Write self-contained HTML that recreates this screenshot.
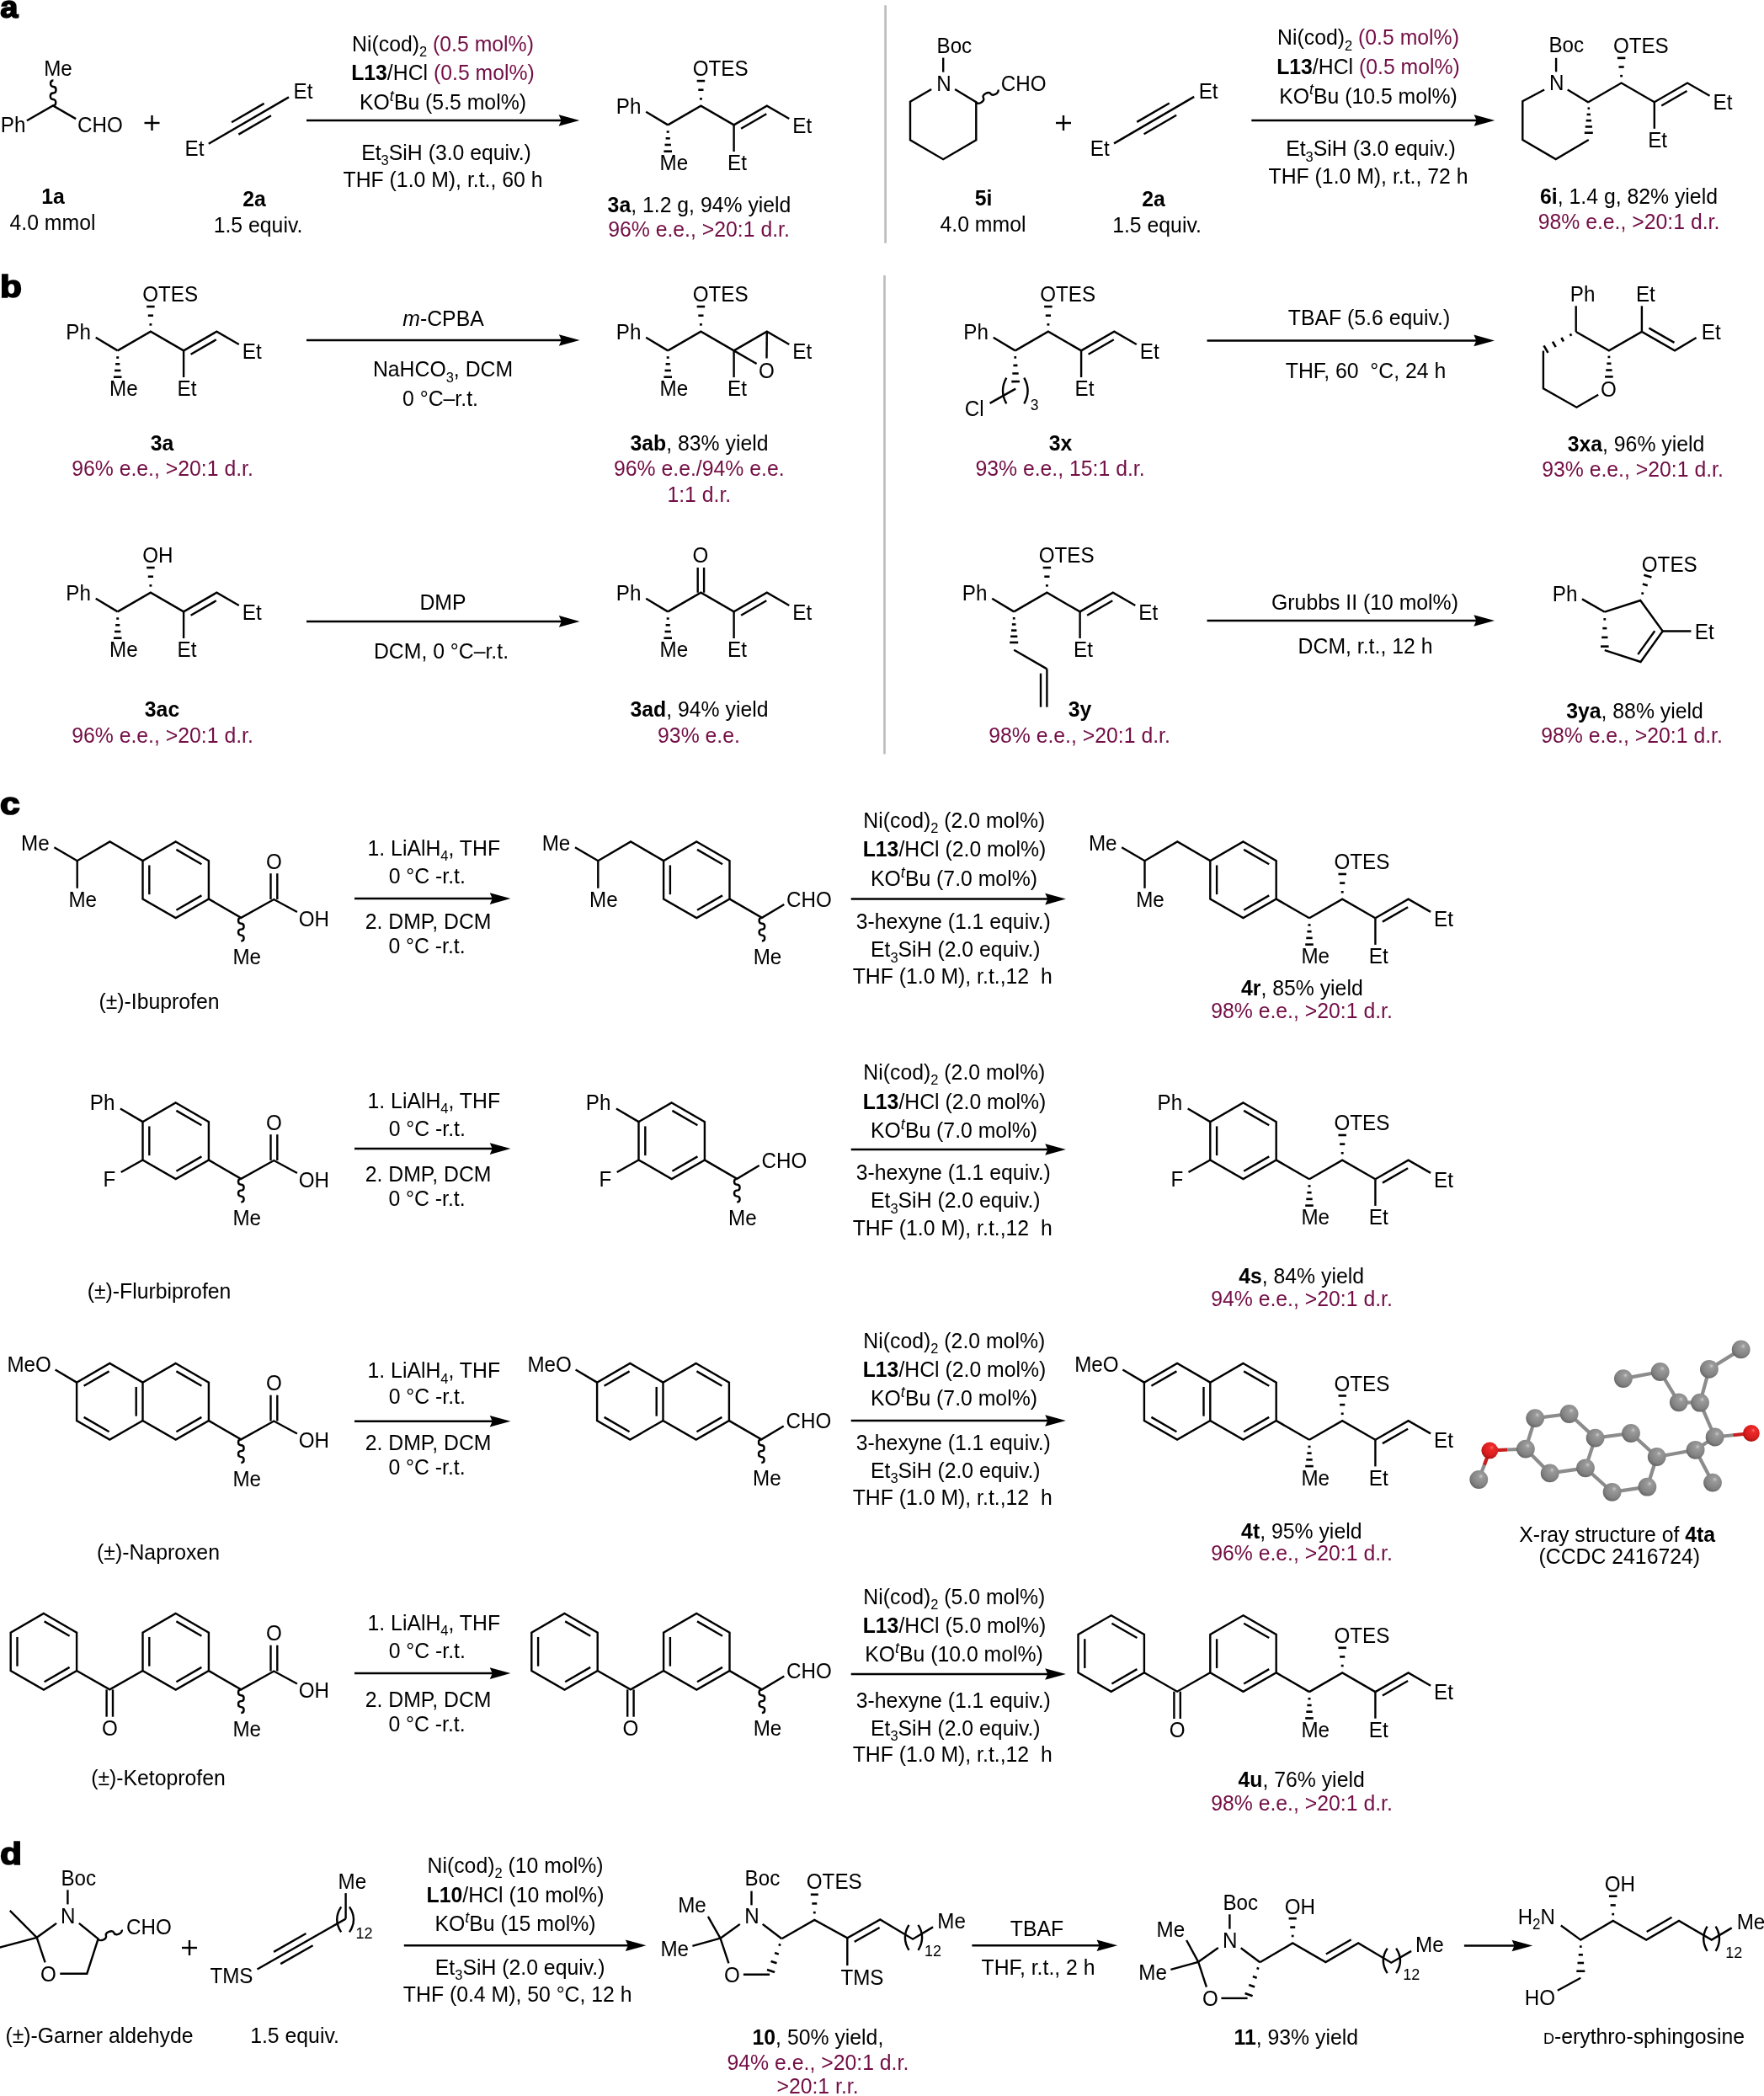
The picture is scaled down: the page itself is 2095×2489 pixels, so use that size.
<!DOCTYPE html><html><head><meta charset="utf-8"><style>html,body{margin:0;padding:0;background:#fff;overflow:hidden;}svg{display:block;will-change:transform;font-family:"Liberation Sans",sans-serif;font-size:24.8px;}</style></head><body><svg width="2095" height="2489" viewBox="0 0 2095 2489"><text transform="matrix(1.0,0,0,0.98,0.3,21.3)" font-weight="bold" font-size="38" stroke="#000" stroke-width="1.7">a</text>
<text transform="matrix(1.12,0,0,0.98,0,353.3)" font-weight="bold" font-size="38" stroke="#000" stroke-width="1.7">b</text>
<text transform="matrix(1.12,0,0,0.98,0,967.2)" font-weight="bold" font-size="38" stroke="#000" stroke-width="1.7">c</text>
<text transform="matrix(1.12,0,0,0.98,0,2213.6)" font-weight="bold" font-size="38" stroke="#000" stroke-width="1.7">d</text>
<line x1="1051.6" y1="6.2" x2="1051.6" y2="288.7" stroke="#bdbdbd" stroke-width="2.7"/>
<line x1="1050.5" y1="327.1" x2="1050.5" y2="895.6" stroke="#bdbdbd" stroke-width="2.7"/>
<path d="M31.9,143.3 L62.9,125.4 L90.1,141.1" fill="none" stroke="#000" stroke-width="2.4" stroke-linejoin="miter" stroke-miterlimit="4"/>
<path d="M62.9,125.4 C67.29,125.47 67.41,118 63.02,117.93 C58.64,117.85 58.76,110.38 63.15,110.45 C67.54,110.52 67.66,103.05 63.27,102.97 C58.89,102.9 59.01,95.43 63.4,95.5" fill="none" stroke="#000" stroke-width="2.4"/>
<text transform="matrix(1,0,0,1.04,52.2,90)" font-size="24.2">Me</text>
<text transform="matrix(1,0,0,1.04,0.8,156.7)" font-size="24.2">Ph</text>
<text transform="matrix(1,0,0,1.04,92.1,156.7)" font-size="24.2">CHO</text>
<line x1="171.5" y1="146" x2="189.5" y2="146" stroke="#000" stroke-width="2.4"/>
<line x1="180.5" y1="137" x2="180.5" y2="155" stroke="#000" stroke-width="2.4"/>
<line x1="247.8" y1="170.7" x2="343" y2="115.4" stroke="#000" stroke-width="2.4"/>
<line x1="275.05" y1="145.27" x2="313.6" y2="122.88" stroke="#000" stroke-width="2.4"/>
<line x1="283.38" y1="159.63" x2="321.94" y2="137.23" stroke="#000" stroke-width="2.4"/>
<text transform="matrix(1,0,0,1.04,219.6,185.1)" font-size="24.2">Et</text>
<text transform="matrix(1,0,0,1.04,348.5,117)" font-size="24.2">Et</text>
<line x1="364" y1="143" x2="668.3" y2="143" stroke="#000" stroke-width="2.5"/>
<path d="M688.3,143 L663.6,136.2 L666.7,143 L663.6,149.8 Z" fill="#000"/>
<text transform="matrix(1,0,0,1.04,526,60.5)" text-anchor="middle">Ni(cod)<tspan font-size="16.5" dy="6.5">2</tspan><tspan dy="-6.5"> </tspan><tspan fill="#720e45">(0.5 mol%)</tspan></text>
<text transform="matrix(1,0,0,1.04,526,94.6)" text-anchor="middle"><tspan font-weight="bold">L13</tspan>/HCl <tspan fill="#720e45">(0.5 mol%)</tspan></text>
<text transform="matrix(1,0,0,1.04,526,129.9)" text-anchor="middle">KO<tspan font-size="18" font-style="italic" dy="-10">t</tspan><tspan dy="10">Bu (5.5 mol%)</tspan></text>
<text transform="matrix(1,0,0,1.04,530,189.6)" text-anchor="middle">Et<tspan font-size="16.5" dy="6.5">3</tspan><tspan dy="-6.5">SiH (3.0 equiv.)</tspan></text>
<text transform="matrix(1,0,0,1.04,526,222.4)" text-anchor="middle">THF (1.0 M), r.t., 60 h</text>
<text transform="matrix(1,0,0,1.04,63,242)" text-anchor="middle"><tspan font-weight="bold">1a</tspan></text>
<text transform="matrix(1,0,0,1.04,62.5,273)" text-anchor="middle">4.0 mmol</text>
<text transform="matrix(1,0,0,1.04,302,245)" text-anchor="middle"><tspan font-weight="bold">2a</tspan></text>
<text transform="matrix(1,0,0,1.04,306.5,276)" text-anchor="middle">1.5 equiv.</text>
<line x1="767.2" y1="132.7" x2="793.2" y2="148.4" stroke="#000" stroke-width="2.4"/>
<text transform="matrix(1,0,0,1.04,731.8,135)" font-size="24.2">Ph</text>
<path d="M793.2,148.4 L832.4,125.75 L871.6,148.4" fill="none" stroke="#000" stroke-width="2.4" stroke-linejoin="miter" stroke-miterlimit="4"/>
<line x1="830.95" y1="117.36" x2="833.85" y2="117.36" stroke="#000" stroke-width="2.6"/>
<line x1="829.3" y1="106.72" x2="835.5" y2="106.72" stroke="#000" stroke-width="2.6"/>
<line x1="827.65" y1="96.08" x2="837.15" y2="96.08" stroke="#000" stroke-width="2.6"/>
<text transform="matrix(1,0,0,1.04,822.7,90.2)" font-size="24.2">OTES</text>
<path d="M871.6,148.4 L910.8,125.75 L937.3,141" fill="none" stroke="#000" stroke-width="2.4" stroke-linejoin="miter" stroke-miterlimit="4"/>
<line x1="880.1" y1="152.73" x2="910.3" y2="135.28" stroke="#000" stroke-width="2.4"/>
<line x1="794.7" y1="156.55" x2="791.7" y2="156.55" stroke="#000" stroke-width="2.6"/>
<line x1="795.8" y1="164.27" x2="790.6" y2="164.27" stroke="#000" stroke-width="2.6"/>
<line x1="796.9" y1="171.98" x2="789.5" y2="171.98" stroke="#000" stroke-width="2.6"/>
<line x1="798" y1="179.7" x2="788.4" y2="179.7" stroke="#000" stroke-width="2.6"/>
<text transform="matrix(1,0,0,1.04,783.6,202.2)" font-size="24.2">Me</text>
<line x1="871.6" y1="148.4" x2="871.6" y2="180" stroke="#000" stroke-width="2.4"/>
<text transform="matrix(1,0,0,1.04,864,202.2)" font-size="24.2">Et</text>
<text transform="matrix(1,0,0,1.04,941.3,157.6)" font-size="24.2">Et</text>
<text transform="matrix(1,0,0,1.04,830.5,252)" text-anchor="middle"><tspan font-weight="bold">3a</tspan>, 1.2 g, 94% yield</text>
<text transform="matrix(1,0,0,1.04,830,281)" text-anchor="middle"><tspan fill="#720e45">96% e.e., &gt;20:1 d.r.</tspan></text>
<path d="M1106.2,106 L1081,120.8 L1081,166.2 L1120.2,189.2 L1159.3,166.2 L1159.3,121.3 L1134.1,106" fill="none" stroke="#000" stroke-width="2.4" stroke-linejoin="miter" stroke-miterlimit="4"/>
<line x1="1120.2" y1="68.6" x2="1120.2" y2="85.6" stroke="#000" stroke-width="2.4"/>
<text transform="matrix(1,0,0,1.04,1112.2,107.6)" font-size="24.2">N</text>
<text transform="matrix(1,0,0,1.04,1112.5,62.9)" font-size="24.2">Boc</text>
<path d="M1159.3,121.3 C1161.47,125.11 1170.14,120.18 1167.97,116.37 C1165.8,112.55 1174.46,107.62 1176.63,111.43 C1178.8,115.25 1187.47,110.31 1185.3,106.5" fill="none" stroke="#000" stroke-width="2.4"/>
<text transform="matrix(1,0,0,1.04,1188.7,108.1)" font-size="24.2">CHO</text>
<text transform="matrix(1,0,0,1.04,1168,244)" text-anchor="middle"><tspan font-weight="bold">5i</tspan></text>
<text transform="matrix(1,0,0,1.04,1167.5,275)" text-anchor="middle">4.0 mmol</text>
<line x1="1254" y1="146" x2="1272" y2="146" stroke="#000" stroke-width="2.4"/>
<line x1="1263" y1="137" x2="1263" y2="155" stroke="#000" stroke-width="2.4"/>
<line x1="1323" y1="170.4" x2="1418.2" y2="114.9" stroke="#000" stroke-width="2.4"/>
<line x1="1350.24" y1="144.91" x2="1388.79" y2="122.44" stroke="#000" stroke-width="2.4"/>
<line x1="1358.6" y1="159.26" x2="1397.15" y2="136.78" stroke="#000" stroke-width="2.4"/>
<text transform="matrix(1,0,0,1.04,1294.8,184.6)" font-size="24.2">Et</text>
<text transform="matrix(1,0,0,1.04,1423.7,116.5)" font-size="24.2">Et</text>
<line x1="1486.3" y1="143" x2="1755.3" y2="143" stroke="#000" stroke-width="2.5"/>
<path d="M1775.3,143 L1750.6,136.2 L1753.7,143 L1750.6,149.8 Z" fill="#000"/>
<text transform="matrix(1,0,0,1.04,1625,53.2)" text-anchor="middle">Ni(cod)<tspan font-size="16.5" dy="6.5">2</tspan><tspan dy="-6.5"> </tspan><tspan fill="#720e45">(0.5 mol%)</tspan></text>
<text transform="matrix(1,0,0,1.04,1625,88)" text-anchor="middle"><tspan font-weight="bold">L13</tspan>/HCl <tspan fill="#720e45">(0.5 mol%)</tspan></text>
<text transform="matrix(1,0,0,1.04,1625,122.5)" text-anchor="middle">KO<tspan font-size="18" font-style="italic" dy="-10">t</tspan><tspan dy="10">Bu (10.5 mol%)</tspan></text>
<text transform="matrix(1,0,0,1.04,1628,185.4)" text-anchor="middle">Et<tspan font-size="16.5" dy="6.5">3</tspan><tspan dy="-6.5">SiH (3.0 equiv.)</tspan></text>
<text transform="matrix(1,0,0,1.04,1625,218.1)" text-anchor="middle">THF (1.0 M), r.t., 72 h</text>
<text transform="matrix(1,0,0,1.04,1370,245)" text-anchor="middle"><tspan font-weight="bold">2a</tspan></text>
<text transform="matrix(1,0,0,1.04,1374,276)" text-anchor="middle">1.5 equiv.</text>
<path d="M1834.1,106.5 L1808.3,120.1 L1808.3,166 L1847.7,189 L1886.8,166" fill="none" stroke="#000" stroke-width="2.4" stroke-linejoin="miter" stroke-miterlimit="4"/>
<line x1="1861.7" y1="106.5" x2="1886.8" y2="121.8" stroke="#000" stroke-width="2.4"/>
<line x1="1888.1" y1="128.68" x2="1885.5" y2="128.68" stroke="#000" stroke-width="2.6"/>
<line x1="1889.02" y1="135.93" x2="1884.58" y2="135.93" stroke="#000" stroke-width="2.6"/>
<line x1="1889.95" y1="143.19" x2="1883.65" y2="143.19" stroke="#000" stroke-width="2.6"/>
<line x1="1890.88" y1="150.45" x2="1882.72" y2="150.45" stroke="#000" stroke-width="2.6"/>
<line x1="1891.8" y1="157.71" x2="1881.8" y2="157.71" stroke="#000" stroke-width="2.6"/>
<line x1="1848.1" y1="68.8" x2="1848.1" y2="85.3" stroke="#000" stroke-width="2.4"/>
<text transform="matrix(1,0,0,1.04,1840.1,107.4)" font-size="24.2">N</text>
<text transform="matrix(1,0,0,1.04,1839.4,62.3)" font-size="24.2">Boc</text>
<path d="M1886.4,121.2 L1925.6,98.55 L1964.8,121.2" fill="none" stroke="#000" stroke-width="2.4" stroke-linejoin="miter" stroke-miterlimit="4"/>
<line x1="1924.15" y1="90.16" x2="1927.05" y2="90.16" stroke="#000" stroke-width="2.6"/>
<line x1="1922.5" y1="79.52" x2="1928.7" y2="79.52" stroke="#000" stroke-width="2.6"/>
<line x1="1920.85" y1="68.88" x2="1930.35" y2="68.88" stroke="#000" stroke-width="2.6"/>
<text transform="matrix(1,0,0,1.04,1915.9,63)" font-size="24.2">OTES</text>
<path d="M1964.8,121.2 L2004,98.55 L2030.5,113.8" fill="none" stroke="#000" stroke-width="2.4" stroke-linejoin="miter" stroke-miterlimit="4"/>
<line x1="1973.3" y1="125.53" x2="2003.5" y2="108.08" stroke="#000" stroke-width="2.4"/>
<line x1="1964.8" y1="121.2" x2="1964.8" y2="152.8" stroke="#000" stroke-width="2.4"/>
<text transform="matrix(1,0,0,1.04,1957.2,175)" font-size="24.2">Et</text>
<text transform="matrix(1,0,0,1.04,2034.5,130.4)" font-size="24.2">Et</text>
<text transform="matrix(1,0,0,1.04,1934.5,242)" text-anchor="middle"><tspan font-weight="bold">6i</tspan>, 1.4 g, 82% yield</text>
<text transform="matrix(1,0,0,1.04,1934.5,272)" text-anchor="middle"><tspan fill="#720e45">98% e.e., &gt;20:1 d.r.</tspan></text>
<line x1="113.7" y1="400.7" x2="139.7" y2="416.4" stroke="#000" stroke-width="2.4"/>
<text transform="matrix(1,0,0,1.04,78.3,403)" font-size="24.2">Ph</text>
<path d="M139.7,416.4 L178.9,393.75 L218.1,416.4" fill="none" stroke="#000" stroke-width="2.4" stroke-linejoin="miter" stroke-miterlimit="4"/>
<line x1="177.45" y1="385.37" x2="180.35" y2="385.37" stroke="#000" stroke-width="2.6"/>
<line x1="175.8" y1="374.72" x2="182" y2="374.72" stroke="#000" stroke-width="2.6"/>
<line x1="174.15" y1="364.08" x2="183.65" y2="364.08" stroke="#000" stroke-width="2.6"/>
<text transform="matrix(1,0,0,1.04,169.2,358.2)" font-size="24.2">OTES</text>
<path d="M218.1,416.4 L257.3,393.75 L283.8,409" fill="none" stroke="#000" stroke-width="2.4" stroke-linejoin="miter" stroke-miterlimit="4"/>
<line x1="226.6" y1="420.73" x2="256.8" y2="403.28" stroke="#000" stroke-width="2.4"/>
<line x1="141.2" y1="424.55" x2="138.2" y2="424.55" stroke="#000" stroke-width="2.6"/>
<line x1="142.3" y1="432.27" x2="137.1" y2="432.27" stroke="#000" stroke-width="2.6"/>
<line x1="143.4" y1="439.98" x2="136" y2="439.98" stroke="#000" stroke-width="2.6"/>
<line x1="144.5" y1="447.7" x2="134.9" y2="447.7" stroke="#000" stroke-width="2.6"/>
<text transform="matrix(1,0,0,1.04,130.1,470.2)" font-size="24.2">Me</text>
<line x1="218.1" y1="416.4" x2="218.1" y2="448" stroke="#000" stroke-width="2.4"/>
<text transform="matrix(1,0,0,1.04,210.5,470.2)" font-size="24.2">Et</text>
<text transform="matrix(1,0,0,1.04,287.8,425.6)" font-size="24.2">Et</text>
<text transform="matrix(1,0,0,1.04,192.5,535)" text-anchor="middle"><tspan font-weight="bold">3a</tspan></text>
<text transform="matrix(1,0,0,1.04,193,565)" text-anchor="middle"><tspan fill="#720e45">96% e.e., &gt;20:1 d.r.</tspan></text>
<line x1="364" y1="404" x2="668.5" y2="404" stroke="#000" stroke-width="2.5"/>
<path d="M688.5,404 L663.8,397.2 L666.9,404 L663.8,410.8 Z" fill="#000"/>
<text transform="matrix(1,0,0,1.04,526.5,386.5)" text-anchor="middle"><tspan font-style="italic">m</tspan>-CPBA</text>
<text transform="matrix(1,0,0,1.04,526,446.8)" text-anchor="middle">NaHCO<tspan font-size="16.5" dy="6.5">3</tspan><tspan dy="-6.5">, DCM</tspan></text>
<text transform="matrix(1,0,0,1.04,523,481.7)" text-anchor="middle">0 °C–r.t.</text>
<line x1="767.2" y1="400.7" x2="793.2" y2="416.4" stroke="#000" stroke-width="2.4"/>
<text transform="matrix(1,0,0,1.04,731.8,403)" font-size="24.2">Ph</text>
<path d="M793.2,416.4 L832.4,393.75 L871.6,416.4" fill="none" stroke="#000" stroke-width="2.4" stroke-linejoin="miter" stroke-miterlimit="4"/>
<line x1="830.95" y1="385.37" x2="833.85" y2="385.37" stroke="#000" stroke-width="2.6"/>
<line x1="829.3" y1="374.72" x2="835.5" y2="374.72" stroke="#000" stroke-width="2.6"/>
<line x1="827.65" y1="364.08" x2="837.15" y2="364.08" stroke="#000" stroke-width="2.6"/>
<text transform="matrix(1,0,0,1.04,822.7,358.2)" font-size="24.2">OTES</text>
<path d="M871.6,416.4 L910.8,393.75 L937.3,409" fill="none" stroke="#000" stroke-width="2.4" stroke-linejoin="miter" stroke-miterlimit="4"/>
<line x1="871.6" y1="416.4" x2="898.6" y2="432" stroke="#000" stroke-width="2.4"/>
<line x1="910.8" y1="393.75" x2="910.5" y2="425.4" stroke="#000" stroke-width="2.4"/>
<text transform="matrix(1,0,0,1.04,901,449)" font-size="24.2">O</text>
<line x1="794.7" y1="424.55" x2="791.7" y2="424.55" stroke="#000" stroke-width="2.6"/>
<line x1="795.8" y1="432.27" x2="790.6" y2="432.27" stroke="#000" stroke-width="2.6"/>
<line x1="796.9" y1="439.98" x2="789.5" y2="439.98" stroke="#000" stroke-width="2.6"/>
<line x1="798" y1="447.7" x2="788.4" y2="447.7" stroke="#000" stroke-width="2.6"/>
<text transform="matrix(1,0,0,1.04,783.6,470.2)" font-size="24.2">Me</text>
<line x1="871.6" y1="416.4" x2="871.6" y2="448" stroke="#000" stroke-width="2.4"/>
<text transform="matrix(1,0,0,1.04,864,470.2)" font-size="24.2">Et</text>
<text transform="matrix(1,0,0,1.04,941.3,425.6)" font-size="24.2">Et</text>
<text transform="matrix(1,0,0,1.04,830.5,535)" text-anchor="middle"><tspan font-weight="bold">3ab</tspan>, 83% yield</text>
<text transform="matrix(1,0,0,1.04,830.3,565)" text-anchor="middle"><tspan fill="#720e45">96% e.e./94% e.e.</tspan></text>
<text transform="matrix(1,0,0,1.04,830.3,595.6)" text-anchor="middle"><tspan fill="#720e45">1:1 d.r.</tspan></text>
<line x1="1179.7" y1="400.7" x2="1205.7" y2="416.4" stroke="#000" stroke-width="2.4"/>
<text transform="matrix(1,0,0,1.04,1144.3,403)" font-size="24.2">Ph</text>
<path d="M1205.7,416.4 L1244.9,393.75 L1284.1,416.4" fill="none" stroke="#000" stroke-width="2.4" stroke-linejoin="miter" stroke-miterlimit="4"/>
<line x1="1243.45" y1="385.37" x2="1246.35" y2="385.37" stroke="#000" stroke-width="2.6"/>
<line x1="1241.8" y1="374.72" x2="1248" y2="374.72" stroke="#000" stroke-width="2.6"/>
<line x1="1240.15" y1="364.08" x2="1249.65" y2="364.08" stroke="#000" stroke-width="2.6"/>
<text transform="matrix(1,0,0,1.04,1235.2,358.2)" font-size="24.2">OTES</text>
<path d="M1284.1,416.4 L1323.3,393.75 L1349.8,409" fill="none" stroke="#000" stroke-width="2.4" stroke-linejoin="miter" stroke-miterlimit="4"/>
<line x1="1292.6" y1="420.73" x2="1322.8" y2="403.28" stroke="#000" stroke-width="2.4"/>
<line x1="1284.1" y1="416.4" x2="1284.1" y2="448" stroke="#000" stroke-width="2.4"/>
<text transform="matrix(1,0,0,1.04,1276.5,470.2)" font-size="24.2">Et</text>
<text transform="matrix(1,0,0,1.04,1353.8,425.6)" font-size="24.2">Et</text>
<line x1="1207.14" y1="424.38" x2="1204.45" y2="424.42" stroke="#000" stroke-width="2.6"/>
<line x1="1208.42" y1="433.91" x2="1203.39" y2="433.97" stroke="#000" stroke-width="2.6"/>
<line x1="1209.7" y1="443.44" x2="1202.34" y2="443.53" stroke="#000" stroke-width="2.6"/>
<line x1="1210.98" y1="452.97" x2="1201.29" y2="453.08" stroke="#000" stroke-width="2.6"/>
<line x1="1206.2" y1="461.6" x2="1175.6" y2="478.9" stroke="#000" stroke-width="2.4"/>
<path d="M1195.3,448.65 Q1186.7,464 1195.3,479.35" fill="none" stroke="#000" stroke-width="2.4"/>
<path d="M1216.3,448.65 Q1224.9,464 1216.3,479.35" fill="none" stroke="#000" stroke-width="2.4"/>
<text transform="matrix(1,0,0,1.04,1223.8,486.7)" font-size="17.5">3</text>
<text transform="matrix(1,0,0,1.04,1145.8,493.9)" font-size="24.2">Cl</text>
<text transform="matrix(1,0,0,1.04,1259.5,535)" text-anchor="middle"><tspan font-weight="bold">3x</tspan></text>
<text transform="matrix(1,0,0,1.04,1259,565)" text-anchor="middle"><tspan fill="#720e45">93% e.e., 15:1 d.r.</tspan></text>
<line x1="1433.5" y1="404.4" x2="1755" y2="404.4" stroke="#000" stroke-width="2.5"/>
<path d="M1775,404.4 L1750.3,397.6 L1753.4,404.4 L1750.3,411.2 Z" fill="#000"/>
<text transform="matrix(1,0,0,1.04,1626,386)" text-anchor="middle">TBAF (5.6 equiv.)</text>
<text transform="matrix(1,0,0,1.04,1622,449)" text-anchor="middle">THF, 60&#160; °C, 24 h</text>
<line x1="1871.7" y1="394" x2="1871.7" y2="363.3" stroke="#000" stroke-width="2.4"/>
<text transform="matrix(1,0,0,1.04,1864.8,357.9)" font-size="24.2">Ph</text>
<line x1="1866.19" y1="398.8" x2="1864.79" y2="396.37" stroke="#000" stroke-width="2.6"/>
<line x1="1856.96" y1="405.51" x2="1854.36" y2="401.01" stroke="#000" stroke-width="2.6"/>
<line x1="1847.73" y1="412.22" x2="1843.93" y2="405.64" stroke="#000" stroke-width="2.6"/>
<line x1="1838.5" y1="418.94" x2="1833.5" y2="410.28" stroke="#000" stroke-width="2.6"/>
<path d="M1832.9,416.4 L1832.9,461.3 L1872.4,483.7 L1898.2,468.8" fill="none" stroke="#000" stroke-width="2.4" stroke-linejoin="miter" stroke-miterlimit="4"/>
<text transform="matrix(1,0,0,1.04,1901.1,470.8)" font-size="24.2">O</text>
<path d="M1871.7,394 L1910.9,416.4 L1949.9,394 L1989,416.4 L2014.6,401" fill="none" stroke="#000" stroke-width="2.4" stroke-linejoin="miter" stroke-miterlimit="4"/>
<line x1="1912.3" y1="423.9" x2="1909.5" y2="423.9" stroke="#000" stroke-width="2.6"/>
<line x1="1913.43" y1="431.72" x2="1908.37" y2="431.72" stroke="#000" stroke-width="2.6"/>
<line x1="1914.57" y1="439.55" x2="1907.23" y2="439.55" stroke="#000" stroke-width="2.6"/>
<line x1="1915.7" y1="447.37" x2="1906.1" y2="447.37" stroke="#000" stroke-width="2.6"/>
<line x1="1949.9" y1="394" x2="1949.9" y2="363.3" stroke="#000" stroke-width="2.4"/>
<text transform="matrix(1,0,0,1.04,1942.9,357.9)" font-size="24.2">Et</text>
<line x1="1958.39" y1="389.64" x2="1988.46" y2="406.87" stroke="#000" stroke-width="2.4"/>
<text transform="matrix(1,0,0,1.04,2020.8,402.8)" font-size="24.2">Et</text>
<text transform="matrix(1,0,0,1.04,1943,535.6)" text-anchor="middle"><tspan font-weight="bold">3xa</tspan>, 96% yield</text>
<text transform="matrix(1,0,0,1.04,1939,566)" text-anchor="middle"><tspan fill="#720e45">93% e.e., &gt;20:1 d.r.</tspan></text>
<line x1="113.7" y1="710.7" x2="139.7" y2="726.4" stroke="#000" stroke-width="2.4"/>
<text transform="matrix(1,0,0,1.04,78.3,713)" font-size="24.2">Ph</text>
<path d="M139.7,726.4 L178.9,703.75 L218.1,726.4" fill="none" stroke="#000" stroke-width="2.4" stroke-linejoin="miter" stroke-miterlimit="4"/>
<line x1="177.45" y1="695.37" x2="180.35" y2="695.37" stroke="#000" stroke-width="2.6"/>
<line x1="175.8" y1="684.72" x2="182" y2="684.72" stroke="#000" stroke-width="2.6"/>
<line x1="174.15" y1="674.08" x2="183.65" y2="674.08" stroke="#000" stroke-width="2.6"/>
<text transform="matrix(1,0,0,1.04,169.2,668.2)" font-size="24.2">OH</text>
<path d="M218.1,726.4 L257.3,703.75 L283.8,719" fill="none" stroke="#000" stroke-width="2.4" stroke-linejoin="miter" stroke-miterlimit="4"/>
<line x1="226.6" y1="730.73" x2="256.8" y2="713.28" stroke="#000" stroke-width="2.4"/>
<line x1="141.2" y1="734.55" x2="138.2" y2="734.55" stroke="#000" stroke-width="2.6"/>
<line x1="142.3" y1="742.27" x2="137.1" y2="742.27" stroke="#000" stroke-width="2.6"/>
<line x1="143.4" y1="749.98" x2="136" y2="749.98" stroke="#000" stroke-width="2.6"/>
<line x1="144.5" y1="757.7" x2="134.9" y2="757.7" stroke="#000" stroke-width="2.6"/>
<text transform="matrix(1,0,0,1.04,130.1,780.2)" font-size="24.2">Me</text>
<line x1="218.1" y1="726.4" x2="218.1" y2="758" stroke="#000" stroke-width="2.4"/>
<text transform="matrix(1,0,0,1.04,210.5,780.2)" font-size="24.2">Et</text>
<text transform="matrix(1,0,0,1.04,287.8,735.6)" font-size="24.2">Et</text>
<text transform="matrix(1,0,0,1.04,192.5,851)" text-anchor="middle"><tspan font-weight="bold">3ac</tspan></text>
<text transform="matrix(1,0,0,1.04,193,882)" text-anchor="middle"><tspan fill="#720e45">96% e.e., &gt;20:1 d.r.</tspan></text>
<line x1="364" y1="737.9" x2="668.5" y2="737.9" stroke="#000" stroke-width="2.5"/>
<path d="M688.5,737.9 L663.8,731.1 L666.9,737.9 L663.8,744.7 Z" fill="#000"/>
<text transform="matrix(1,0,0,1.04,526,724)" text-anchor="middle">DMP</text>
<text transform="matrix(1,0,0,1.04,524,782)" text-anchor="middle">DCM, 0 °C–r.t.</text>
<line x1="767.2" y1="710.7" x2="793.2" y2="726.4" stroke="#000" stroke-width="2.4"/>
<text transform="matrix(1,0,0,1.04,731.8,713)" font-size="24.2">Ph</text>
<path d="M793.2,726.4 L832.4,703.75 L871.6,726.4 L910.8,703.75 L937.3,719" fill="none" stroke="#000" stroke-width="2.4" stroke-linejoin="miter" stroke-miterlimit="4"/>
<line x1="828.7" y1="703.75" x2="828.7" y2="674" stroke="#000" stroke-width="2.4"/>
<line x1="836.1" y1="703.75" x2="836.1" y2="674" stroke="#000" stroke-width="2.4"/>
<text transform="matrix(1,0,0,1.04,822.6,668.2)" font-size="24.2">O</text>
<line x1="880.1" y1="730.73" x2="910.3" y2="713.28" stroke="#000" stroke-width="2.4"/>
<line x1="794.7" y1="734.55" x2="791.7" y2="734.55" stroke="#000" stroke-width="2.6"/>
<line x1="795.8" y1="742.27" x2="790.6" y2="742.27" stroke="#000" stroke-width="2.6"/>
<line x1="796.9" y1="749.98" x2="789.5" y2="749.98" stroke="#000" stroke-width="2.6"/>
<line x1="798" y1="757.7" x2="788.4" y2="757.7" stroke="#000" stroke-width="2.6"/>
<text transform="matrix(1,0,0,1.04,783.6,780.2)" font-size="24.2">Me</text>
<line x1="871.6" y1="726.4" x2="871.6" y2="758" stroke="#000" stroke-width="2.4"/>
<text transform="matrix(1,0,0,1.04,864,780.2)" font-size="24.2">Et</text>
<text transform="matrix(1,0,0,1.04,941.3,735.6)" font-size="24.2">Et</text>
<text transform="matrix(1,0,0,1.04,830.5,851)" text-anchor="middle"><tspan font-weight="bold">3ad</tspan>, 94% yield</text>
<text transform="matrix(1,0,0,1.04,830,882)" text-anchor="middle"><tspan fill="#720e45">93% e.e.</tspan></text>
<line x1="1178.2" y1="710.7" x2="1204.2" y2="726.4" stroke="#000" stroke-width="2.4"/>
<text transform="matrix(1,0,0,1.04,1142.8,713)" font-size="24.2">Ph</text>
<path d="M1204.2,726.4 L1243.4,703.75 L1282.6,726.4" fill="none" stroke="#000" stroke-width="2.4" stroke-linejoin="miter" stroke-miterlimit="4"/>
<line x1="1241.95" y1="695.37" x2="1244.85" y2="695.37" stroke="#000" stroke-width="2.6"/>
<line x1="1240.3" y1="684.72" x2="1246.5" y2="684.72" stroke="#000" stroke-width="2.6"/>
<line x1="1238.65" y1="674.08" x2="1248.15" y2="674.08" stroke="#000" stroke-width="2.6"/>
<text transform="matrix(1,0,0,1.04,1233.7,668.2)" font-size="24.2">OTES</text>
<path d="M1282.6,726.4 L1321.8,703.75 L1348.3,719" fill="none" stroke="#000" stroke-width="2.4" stroke-linejoin="miter" stroke-miterlimit="4"/>
<line x1="1291.1" y1="730.73" x2="1321.3" y2="713.28" stroke="#000" stroke-width="2.4"/>
<line x1="1282.6" y1="726.4" x2="1282.6" y2="758" stroke="#000" stroke-width="2.4"/>
<text transform="matrix(1,0,0,1.04,1275,780.2)" font-size="24.2">Et</text>
<text transform="matrix(1,0,0,1.04,1352.3,735.6)" font-size="24.2">Et</text>
<line x1="1205.6" y1="734.32" x2="1202.8" y2="734.32" stroke="#000" stroke-width="2.6"/>
<line x1="1206.5" y1="741.47" x2="1201.9" y2="741.47" stroke="#000" stroke-width="2.6"/>
<line x1="1207.4" y1="748.62" x2="1201" y2="748.62" stroke="#000" stroke-width="2.6"/>
<line x1="1208.3" y1="755.77" x2="1200.1" y2="755.77" stroke="#000" stroke-width="2.6"/>
<line x1="1209.2" y1="762.92" x2="1199.2" y2="762.92" stroke="#000" stroke-width="2.6"/>
<line x1="1204.2" y1="771.7" x2="1243.4" y2="794.35" stroke="#000" stroke-width="2.4"/>
<line x1="1243.4" y1="794.35" x2="1243.4" y2="839.65" stroke="#000" stroke-width="2.4"/>
<line x1="1236" y1="799.65" x2="1236" y2="839.65" stroke="#000" stroke-width="2.4"/>
<text transform="matrix(1,0,0,1.04,1282.5,851)" text-anchor="middle"><tspan font-weight="bold">3y</tspan></text>
<text transform="matrix(1,0,0,1.04,1282,882)" text-anchor="middle"><tspan fill="#720e45">98% e.e., &gt;20:1 d.r.</tspan></text>
<line x1="1433.5" y1="737" x2="1755" y2="737" stroke="#000" stroke-width="2.5"/>
<path d="M1775,737 L1750.3,730.2 L1753.4,737 L1750.3,743.8 Z" fill="#000"/>
<text transform="matrix(1,0,0,1.04,1621,724.4)" text-anchor="middle">Grubbs II (10 mol%)</text>
<text transform="matrix(1,0,0,1.04,1621.5,775.6)" text-anchor="middle">DCM, r.t., 12 h</text>
<line x1="1878.9" y1="711.4" x2="1905.8" y2="726.7" stroke="#000" stroke-width="2.4"/>
<text transform="matrix(1,0,0,1.04,1843.8,713.6)" font-size="24.2">Ph</text>
<path d="M1905.8,726.7 L1948.2,713 L1974.7,749.5 L1948.5,786 L1905.8,772.2" fill="none" stroke="#000" stroke-width="2.4" stroke-linejoin="miter" stroke-miterlimit="4"/>
<line x1="1949.37" y1="704.23" x2="1952.05" y2="705.03" stroke="#000" stroke-width="2.6"/>
<line x1="1950.83" y1="693.52" x2="1956.73" y2="695.28" stroke="#000" stroke-width="2.6"/>
<line x1="1952.3" y1="682.81" x2="1961.4" y2="685.53" stroke="#000" stroke-width="2.6"/>
<text transform="matrix(1,0,0,1.04,1949.8,678.9)" font-size="24.2">OTES</text>
<line x1="1974.7" y1="749.5" x2="2008.4" y2="749.5" stroke="#000" stroke-width="2.4"/>
<text transform="matrix(1,0,0,1.04,2012.8,758.8)" font-size="24.2">Et</text>
<line x1="1965.27" y1="749.26" x2="1945.25" y2="777.15" stroke="#000" stroke-width="2.4"/>
<line x1="1907.2" y1="735.35" x2="1904.4" y2="735.35" stroke="#000" stroke-width="2.6"/>
<line x1="1908.33" y1="746.11" x2="1903.27" y2="746.11" stroke="#000" stroke-width="2.6"/>
<line x1="1909.47" y1="756.88" x2="1902.13" y2="756.88" stroke="#000" stroke-width="2.6"/>
<line x1="1910.6" y1="767.65" x2="1901" y2="767.65" stroke="#000" stroke-width="2.6"/>
<text transform="matrix(1,0,0,1.04,1941.5,852.5)" text-anchor="middle"><tspan font-weight="bold">3ya</tspan>, 88% yield</text>
<text transform="matrix(1,0,0,1.04,1938,882)" text-anchor="middle"><tspan fill="#720e45">98% e.e., &gt;20:1 d.r.</tspan></text>
<path d="M208.7,999.5 L247.9,1022.15 L247.9,1067.45 L208.7,1090.1 L169.5,1067.45 L169.5,1022.15 Z" fill="none" stroke="#000" stroke-width="2.4" stroke-linejoin="miter" stroke-miterlimit="4"/>
<line x1="177.3" y1="1062.15" x2="177.3" y2="1027.45" stroke="#000" stroke-width="2.4"/>
<line x1="209.39" y1="1008.91" x2="239.41" y2="1026.25" stroke="#000" stroke-width="2.4"/>
<line x1="239.41" y1="1063.35" x2="209.39" y2="1080.69" stroke="#000" stroke-width="2.4"/>
<path d="M64.4,1006.3 L91.7,1022.2 L130.5,999.5 L169.5,1022.15" fill="none" stroke="#000" stroke-width="2.4" stroke-linejoin="miter" stroke-miterlimit="4"/>
<line x1="91.7" y1="1022.2" x2="91.7" y2="1054.8" stroke="#000" stroke-width="2.4"/>
<text transform="matrix(1,0,0,1.04,25.1,1009.9)" font-size="24.2">Me</text>
<text transform="matrix(1,0,0,1.04,81.4,1077)" font-size="24.2">Me</text>
<path d="M827.3,999.5 L866.5,1022.15 L866.5,1067.45 L827.3,1090.1 L788.1,1067.45 L788.1,1022.15 Z" fill="none" stroke="#000" stroke-width="2.4" stroke-linejoin="miter" stroke-miterlimit="4"/>
<line x1="795.9" y1="1062.15" x2="795.9" y2="1027.45" stroke="#000" stroke-width="2.4"/>
<line x1="827.99" y1="1008.91" x2="858.01" y2="1026.25" stroke="#000" stroke-width="2.4"/>
<line x1="858.01" y1="1063.35" x2="827.99" y2="1080.69" stroke="#000" stroke-width="2.4"/>
<path d="M683,1006.3 L710.3,1022.2 L749.1,999.5 L788.1,1022.15" fill="none" stroke="#000" stroke-width="2.4" stroke-linejoin="miter" stroke-miterlimit="4"/>
<line x1="710.3" y1="1022.2" x2="710.3" y2="1054.8" stroke="#000" stroke-width="2.4"/>
<text transform="matrix(1,0,0,1.04,643.7,1009.9)" font-size="24.2">Me</text>
<text transform="matrix(1,0,0,1.04,700,1077)" font-size="24.2">Me</text>
<path d="M1476.5,999.5 L1515.7,1022.15 L1515.7,1067.45 L1476.5,1090.1 L1437.3,1067.45 L1437.3,1022.15 Z" fill="none" stroke="#000" stroke-width="2.4" stroke-linejoin="miter" stroke-miterlimit="4"/>
<line x1="1445.1" y1="1062.15" x2="1445.1" y2="1027.45" stroke="#000" stroke-width="2.4"/>
<line x1="1477.19" y1="1008.91" x2="1507.21" y2="1026.25" stroke="#000" stroke-width="2.4"/>
<line x1="1507.21" y1="1063.35" x2="1477.19" y2="1080.69" stroke="#000" stroke-width="2.4"/>
<path d="M1332.2,1006.3 L1359.5,1022.2 L1398.3,999.5 L1437.3,1022.15" fill="none" stroke="#000" stroke-width="2.4" stroke-linejoin="miter" stroke-miterlimit="4"/>
<line x1="1359.5" y1="1022.2" x2="1359.5" y2="1054.8" stroke="#000" stroke-width="2.4"/>
<text transform="matrix(1,0,0,1.04,1292.9,1009.9)" font-size="24.2">Me</text>
<text transform="matrix(1,0,0,1.04,1349.2,1077)" font-size="24.2">Me</text>
<path d="M248,1067.6 L286.3,1089.8 L325.3,1068 L352.9,1083" fill="none" stroke="#000" stroke-width="2.4" stroke-linejoin="miter" stroke-miterlimit="4"/>
<line x1="321.5" y1="1068" x2="321.5" y2="1037.2" stroke="#000" stroke-width="2.4"/>
<line x1="329.3" y1="1068" x2="329.3" y2="1037.2" stroke="#000" stroke-width="2.4"/>
<path d="M286.3,1089.8 C281.91,1089.8 281.91,1096.72 286.3,1096.72 C290.69,1096.72 290.69,1103.65 286.3,1103.65 C281.91,1103.65 281.91,1110.58 286.3,1110.58 C290.69,1110.58 290.69,1117.5 286.3,1117.5" fill="none" stroke="#000" stroke-width="2.4"/>
<text transform="matrix(1,0,0,1.04,315.9,1031.8)" font-size="24.2">O</text>
<text transform="matrix(1,0,0,1.04,354.7,1099.8)" font-size="24.2">OH</text>
<text transform="matrix(1,0,0,1.04,276.4,1145)" font-size="24.2">Me</text>
<path d="M866.6,1067.6 L904.9,1089.8 L931.3,1074" fill="none" stroke="#000" stroke-width="2.4" stroke-linejoin="miter" stroke-miterlimit="4"/>
<path d="M904.9,1089.8 C900.51,1089.8 900.51,1096.72 904.9,1096.72 C909.29,1096.72 909.29,1103.65 904.9,1103.65 C900.51,1103.65 900.51,1110.58 904.9,1110.58 C909.29,1110.58 909.29,1117.5 904.9,1117.5" fill="none" stroke="#000" stroke-width="2.4"/>
<text transform="matrix(1,0,0,1.04,934.1,1076.7)" font-size="24.2">CHO</text>
<text transform="matrix(1,0,0,1.04,894.7,1144.5)" font-size="24.2">Me</text>
<path d="M1555,1090.3 L1594.2,1067.65 L1633.4,1090.3" fill="none" stroke="#000" stroke-width="2.4" stroke-linejoin="miter" stroke-miterlimit="4"/>
<line x1="1592.75" y1="1059.27" x2="1595.65" y2="1059.27" stroke="#000" stroke-width="2.6"/>
<line x1="1591.1" y1="1048.62" x2="1597.3" y2="1048.62" stroke="#000" stroke-width="2.6"/>
<line x1="1589.45" y1="1037.98" x2="1598.95" y2="1037.98" stroke="#000" stroke-width="2.6"/>
<text transform="matrix(1,0,0,1.04,1584.5,1032.1)" font-size="24.2">OTES</text>
<path d="M1633.4,1090.3 L1672.6,1067.65 L1699.1,1082.9" fill="none" stroke="#000" stroke-width="2.4" stroke-linejoin="miter" stroke-miterlimit="4"/>
<line x1="1641.9" y1="1094.63" x2="1672.1" y2="1077.18" stroke="#000" stroke-width="2.4"/>
<line x1="1556.5" y1="1098.45" x2="1553.5" y2="1098.45" stroke="#000" stroke-width="2.6"/>
<line x1="1557.6" y1="1106.17" x2="1552.4" y2="1106.17" stroke="#000" stroke-width="2.6"/>
<line x1="1558.7" y1="1113.88" x2="1551.3" y2="1113.88" stroke="#000" stroke-width="2.6"/>
<line x1="1559.8" y1="1121.6" x2="1550.2" y2="1121.6" stroke="#000" stroke-width="2.6"/>
<text transform="matrix(1,0,0,1.04,1545.4,1144.1)" font-size="24.2">Me</text>
<line x1="1633.4" y1="1090.3" x2="1633.4" y2="1121.9" stroke="#000" stroke-width="2.4"/>
<text transform="matrix(1,0,0,1.04,1625.8,1144.1)" font-size="24.2">Et</text>
<text transform="matrix(1,0,0,1.04,1703.1,1099.5)" font-size="24.2">Et</text>
<line x1="1515.8" y1="1067.6" x2="1555" y2="1090.3" stroke="#000" stroke-width="2.4"/>
<text transform="matrix(1,0,0,1.04,189,1197.8)" text-anchor="middle">(±)-Ibuprofen</text>
<line x1="421" y1="1067.1" x2="586.4" y2="1067.1" stroke="#000" stroke-width="2.5"/>
<path d="M606.4,1067.1 L581.7,1060.3 L584.8,1067.1 L581.7,1073.9 Z" fill="#000"/>
<text transform="matrix(1,0,0,1.04,515.3,1015.7)" text-anchor="middle">1. LiAlH<tspan font-size="16.5" dy="6.5">4</tspan><tspan dy="-6.5">, THF</tspan></text>
<text transform="matrix(1,0,0,1.04,507.3,1048.8)" text-anchor="middle">0 °C -r.t.</text>
<text transform="matrix(1,0,0,1.04,508.6,1102.6)" text-anchor="middle">2. DMP, DCM</text>
<text transform="matrix(1,0,0,1.04,507,1131.8)" text-anchor="middle">0 °C -r.t.</text>
<line x1="1010.7" y1="1067.6" x2="1245.9" y2="1067.6" stroke="#000" stroke-width="2.5"/>
<path d="M1265.9,1067.6 L1241.2,1060.8 L1244.3,1067.6 L1241.2,1074.4 Z" fill="#000"/>
<text transform="matrix(1,0,0,1.04,1133.3,982.7)" text-anchor="middle">Ni(cod)<tspan font-size="16.5" dy="6.5">2</tspan><tspan dy="-6.5"> (2.0 mol%)</tspan></text>
<text transform="matrix(1,0,0,1.04,1133.5,1017.2)" text-anchor="middle"><tspan font-weight="bold">L13</tspan>/HCl (2.0 mol%)</text>
<text transform="matrix(1,0,0,1.04,1133,1052)" text-anchor="middle">KO<tspan font-size="18" font-style="italic" dy="-10">t</tspan><tspan dy="10">Bu (7.0 mol%)</tspan></text>
<text transform="matrix(1,0,0,1.04,1132.3,1102.5)" text-anchor="middle">3-hexyne (1.1 equiv.)</text>
<text transform="matrix(1,0,0,1.04,1134.8,1136.3)" text-anchor="middle">Et<tspan font-size="16.5" dy="6.5">3</tspan><tspan dy="-6.5">SiH (2.0 equiv.)</tspan></text>
<text transform="matrix(1,0,0,1.04,1131.2,1168)" text-anchor="middle">THF (1.0 M), r.t.,12&#160; h</text>
<text transform="matrix(1,0,0,1.04,1546.3,1182)" text-anchor="middle"><tspan font-weight="bold">4r</tspan>, 85% yield</text>
<text transform="matrix(1,0,0,1.04,1546,1209)" text-anchor="middle"><tspan fill="#720e45">98% e.e., &gt;20:1 d.r.</tspan></text>
<path d="M208.7,1309.5 L247.9,1332.15 L247.9,1377.45 L208.7,1400.1 L169.5,1377.45 L169.5,1332.15 Z" fill="none" stroke="#000" stroke-width="2.4" stroke-linejoin="miter" stroke-miterlimit="4"/>
<line x1="177.3" y1="1372.15" x2="177.3" y2="1337.45" stroke="#000" stroke-width="2.4"/>
<line x1="209.39" y1="1318.91" x2="239.41" y2="1336.25" stroke="#000" stroke-width="2.4"/>
<line x1="239.41" y1="1373.35" x2="209.39" y2="1390.69" stroke="#000" stroke-width="2.4"/>
<line x1="169.5" y1="1332.15" x2="142.9" y2="1316.5" stroke="#000" stroke-width="2.4"/>
<line x1="169.5" y1="1377.45" x2="143.7" y2="1392" stroke="#000" stroke-width="2.4"/>
<text transform="matrix(1,0,0,1.04,106.8,1318)" font-size="24.2">Ph</text>
<text transform="matrix(1,0,0,1.04,122.6,1408.6)" font-size="24.2">F</text>
<path d="M797.7,1309.5 L836.9,1332.15 L836.9,1377.45 L797.7,1400.1 L758.5,1377.45 L758.5,1332.15 Z" fill="none" stroke="#000" stroke-width="2.4" stroke-linejoin="miter" stroke-miterlimit="4"/>
<line x1="766.3" y1="1372.15" x2="766.3" y2="1337.45" stroke="#000" stroke-width="2.4"/>
<line x1="798.39" y1="1318.91" x2="828.41" y2="1336.25" stroke="#000" stroke-width="2.4"/>
<line x1="828.41" y1="1373.35" x2="798.39" y2="1390.69" stroke="#000" stroke-width="2.4"/>
<line x1="758.5" y1="1332.15" x2="731.9" y2="1316.5" stroke="#000" stroke-width="2.4"/>
<line x1="758.5" y1="1377.45" x2="732.7" y2="1392" stroke="#000" stroke-width="2.4"/>
<text transform="matrix(1,0,0,1.04,695.8,1318)" font-size="24.2">Ph</text>
<text transform="matrix(1,0,0,1.04,711.6,1408.6)" font-size="24.2">F</text>
<path d="M1476.5,1309.5 L1515.7,1332.15 L1515.7,1377.45 L1476.5,1400.1 L1437.3,1377.45 L1437.3,1332.15 Z" fill="none" stroke="#000" stroke-width="2.4" stroke-linejoin="miter" stroke-miterlimit="4"/>
<line x1="1445.1" y1="1372.15" x2="1445.1" y2="1337.45" stroke="#000" stroke-width="2.4"/>
<line x1="1477.19" y1="1318.91" x2="1507.21" y2="1336.25" stroke="#000" stroke-width="2.4"/>
<line x1="1507.21" y1="1373.35" x2="1477.19" y2="1390.69" stroke="#000" stroke-width="2.4"/>
<line x1="1437.3" y1="1332.15" x2="1410.7" y2="1316.5" stroke="#000" stroke-width="2.4"/>
<line x1="1437.3" y1="1377.45" x2="1411.5" y2="1392" stroke="#000" stroke-width="2.4"/>
<text transform="matrix(1,0,0,1.04,1374.6,1318)" font-size="24.2">Ph</text>
<text transform="matrix(1,0,0,1.04,1390.4,1408.6)" font-size="24.2">F</text>
<path d="M248,1377.6 L286.3,1399.8 L325.3,1378 L352.9,1393" fill="none" stroke="#000" stroke-width="2.4" stroke-linejoin="miter" stroke-miterlimit="4"/>
<line x1="321.5" y1="1378" x2="321.5" y2="1347.2" stroke="#000" stroke-width="2.4"/>
<line x1="329.3" y1="1378" x2="329.3" y2="1347.2" stroke="#000" stroke-width="2.4"/>
<path d="M286.3,1399.8 C281.91,1399.8 281.91,1406.72 286.3,1406.72 C290.69,1406.72 290.69,1413.65 286.3,1413.65 C281.91,1413.65 281.91,1420.58 286.3,1420.58 C290.69,1420.58 290.69,1427.5 286.3,1427.5" fill="none" stroke="#000" stroke-width="2.4"/>
<text transform="matrix(1,0,0,1.04,315.9,1341.8)" font-size="24.2">O</text>
<text transform="matrix(1,0,0,1.04,354.7,1409.8)" font-size="24.2">OH</text>
<text transform="matrix(1,0,0,1.04,276.4,1455)" font-size="24.2">Me</text>
<path d="M837,1377.6 L875.3,1399.8 L901.7,1384" fill="none" stroke="#000" stroke-width="2.4" stroke-linejoin="miter" stroke-miterlimit="4"/>
<path d="M875.3,1399.8 C870.91,1399.8 870.91,1406.72 875.3,1406.72 C879.69,1406.72 879.69,1413.65 875.3,1413.65 C870.91,1413.65 870.91,1420.58 875.3,1420.58 C879.69,1420.58 879.69,1427.5 875.3,1427.5" fill="none" stroke="#000" stroke-width="2.4"/>
<text transform="matrix(1,0,0,1.04,904.5,1386.7)" font-size="24.2">CHO</text>
<text transform="matrix(1,0,0,1.04,865.1,1454.5)" font-size="24.2">Me</text>
<path d="M1555,1400.3 L1594.2,1377.65 L1633.4,1400.3" fill="none" stroke="#000" stroke-width="2.4" stroke-linejoin="miter" stroke-miterlimit="4"/>
<line x1="1592.75" y1="1369.27" x2="1595.65" y2="1369.27" stroke="#000" stroke-width="2.6"/>
<line x1="1591.1" y1="1358.62" x2="1597.3" y2="1358.62" stroke="#000" stroke-width="2.6"/>
<line x1="1589.45" y1="1347.98" x2="1598.95" y2="1347.98" stroke="#000" stroke-width="2.6"/>
<text transform="matrix(1,0,0,1.04,1584.5,1342.1)" font-size="24.2">OTES</text>
<path d="M1633.4,1400.3 L1672.6,1377.65 L1699.1,1392.9" fill="none" stroke="#000" stroke-width="2.4" stroke-linejoin="miter" stroke-miterlimit="4"/>
<line x1="1641.9" y1="1404.63" x2="1672.1" y2="1387.18" stroke="#000" stroke-width="2.4"/>
<line x1="1556.5" y1="1408.45" x2="1553.5" y2="1408.45" stroke="#000" stroke-width="2.6"/>
<line x1="1557.6" y1="1416.17" x2="1552.4" y2="1416.17" stroke="#000" stroke-width="2.6"/>
<line x1="1558.7" y1="1423.88" x2="1551.3" y2="1423.88" stroke="#000" stroke-width="2.6"/>
<line x1="1559.8" y1="1431.6" x2="1550.2" y2="1431.6" stroke="#000" stroke-width="2.6"/>
<text transform="matrix(1,0,0,1.04,1545.4,1454.1)" font-size="24.2">Me</text>
<line x1="1633.4" y1="1400.3" x2="1633.4" y2="1431.9" stroke="#000" stroke-width="2.4"/>
<text transform="matrix(1,0,0,1.04,1625.8,1454.1)" font-size="24.2">Et</text>
<text transform="matrix(1,0,0,1.04,1703.1,1409.5)" font-size="24.2">Et</text>
<line x1="1515.8" y1="1377.6" x2="1555" y2="1400.3" stroke="#000" stroke-width="2.4"/>
<text transform="matrix(1,0,0,1.04,189,1541.5)" text-anchor="middle">(±)-Flurbiprofen</text>
<line x1="421" y1="1364.1" x2="586.4" y2="1364.1" stroke="#000" stroke-width="2.5"/>
<path d="M606.4,1364.1 L581.7,1357.3 L584.8,1364.1 L581.7,1370.9 Z" fill="#000"/>
<text transform="matrix(1,0,0,1.04,515.3,1315.7)" text-anchor="middle">1. LiAlH<tspan font-size="16.5" dy="6.5">4</tspan><tspan dy="-6.5">, THF</tspan></text>
<text transform="matrix(1,0,0,1.04,507.3,1348.8)" text-anchor="middle">0 °C -r.t.</text>
<text transform="matrix(1,0,0,1.04,508.6,1402.6)" text-anchor="middle">2. DMP, DCM</text>
<text transform="matrix(1,0,0,1.04,507,1431.8)" text-anchor="middle">0 °C -r.t.</text>
<line x1="1010.7" y1="1365" x2="1245.9" y2="1365" stroke="#000" stroke-width="2.5"/>
<path d="M1265.9,1365 L1241.2,1358.2 L1244.3,1365 L1241.2,1371.8 Z" fill="#000"/>
<text transform="matrix(1,0,0,1.04,1133.3,1281.6)" text-anchor="middle">Ni(cod)<tspan font-size="16.5" dy="6.5">2</tspan><tspan dy="-6.5"> (2.0 mol%)</tspan></text>
<text transform="matrix(1,0,0,1.04,1133.5,1316.5)" text-anchor="middle"><tspan font-weight="bold">L13</tspan>/HCl (2.0 mol%)</text>
<text transform="matrix(1,0,0,1.04,1133,1351)" text-anchor="middle">KO<tspan font-size="18" font-style="italic" dy="-10">t</tspan><tspan dy="10">Bu (7.0 mol%)</tspan></text>
<text transform="matrix(1,0,0,1.04,1132.3,1401.4)" text-anchor="middle">3-hexyne (1.1 equiv.)</text>
<text transform="matrix(1,0,0,1.04,1134.8,1434.4)" text-anchor="middle">Et<tspan font-size="16.5" dy="6.5">3</tspan><tspan dy="-6.5">SiH (2.0 equiv.)</tspan></text>
<text transform="matrix(1,0,0,1.04,1131.2,1467.3)" text-anchor="middle">THF (1.0 M), r.t.,12&#160; h</text>
<text transform="matrix(1,0,0,1.04,1545.6,1524.4)" text-anchor="middle"><tspan font-weight="bold">4s</tspan>, 84% yield</text>
<text transform="matrix(1,0,0,1.04,1546,1551.4)" text-anchor="middle"><tspan fill="#720e45">94% e.e., &gt;20:1 d.r.</tspan></text>
<path d="M208.7,1619 L247.9,1641.65 L247.9,1686.95 L208.7,1709.6 L169.5,1686.95 L169.5,1641.65 Z" fill="none" stroke="#000" stroke-width="2.4" stroke-linejoin="miter" stroke-miterlimit="4"/>
<line x1="209.39" y1="1628.41" x2="239.41" y2="1645.75" stroke="#000" stroke-width="2.4"/>
<line x1="239.41" y1="1682.85" x2="209.39" y2="1700.19" stroke="#000" stroke-width="2.4"/>
<path d="M169.5,1641.65 L130.3,1619 L91.1,1641.65 L91.1,1686.95 L130.3,1709.6 L169.5,1686.95" fill="none" stroke="#000" stroke-width="2.4" stroke-linejoin="miter" stroke-miterlimit="4"/>
<line x1="99.59" y1="1645.75" x2="129.61" y2="1628.41" stroke="#000" stroke-width="2.4"/>
<line x1="99.59" y1="1682.85" x2="129.61" y2="1700.19" stroke="#000" stroke-width="2.4"/>
<line x1="161.7" y1="1646.95" x2="161.7" y2="1681.65" stroke="#000" stroke-width="2.4"/>
<line x1="91.1" y1="1641.65" x2="65.6" y2="1626.5" stroke="#000" stroke-width="2.4"/>
<text transform="matrix(1,0,0,1.04,8.4,1628.7)" font-size="24.2">MeO</text>
<path d="M826.7,1619 L865.9,1641.65 L865.9,1686.95 L826.7,1709.6 L787.5,1686.95 L787.5,1641.65 Z" fill="none" stroke="#000" stroke-width="2.4" stroke-linejoin="miter" stroke-miterlimit="4"/>
<line x1="827.39" y1="1628.41" x2="857.41" y2="1645.75" stroke="#000" stroke-width="2.4"/>
<line x1="857.41" y1="1682.85" x2="827.39" y2="1700.19" stroke="#000" stroke-width="2.4"/>
<path d="M787.5,1641.65 L748.3,1619 L709.1,1641.65 L709.1,1686.95 L748.3,1709.6 L787.5,1686.95" fill="none" stroke="#000" stroke-width="2.4" stroke-linejoin="miter" stroke-miterlimit="4"/>
<line x1="717.59" y1="1645.75" x2="747.61" y2="1628.41" stroke="#000" stroke-width="2.4"/>
<line x1="717.59" y1="1682.85" x2="747.61" y2="1700.19" stroke="#000" stroke-width="2.4"/>
<line x1="779.7" y1="1646.95" x2="779.7" y2="1681.65" stroke="#000" stroke-width="2.4"/>
<line x1="709.1" y1="1641.65" x2="683.6" y2="1626.5" stroke="#000" stroke-width="2.4"/>
<text transform="matrix(1,0,0,1.04,626.4,1628.7)" font-size="24.2">MeO</text>
<path d="M1476.5,1619 L1515.7,1641.65 L1515.7,1686.95 L1476.5,1709.6 L1437.3,1686.95 L1437.3,1641.65 Z" fill="none" stroke="#000" stroke-width="2.4" stroke-linejoin="miter" stroke-miterlimit="4"/>
<line x1="1477.19" y1="1628.41" x2="1507.21" y2="1645.75" stroke="#000" stroke-width="2.4"/>
<line x1="1507.21" y1="1682.85" x2="1477.19" y2="1700.19" stroke="#000" stroke-width="2.4"/>
<path d="M1437.3,1641.65 L1398.1,1619 L1358.9,1641.65 L1358.9,1686.95 L1398.1,1709.6 L1437.3,1686.95" fill="none" stroke="#000" stroke-width="2.4" stroke-linejoin="miter" stroke-miterlimit="4"/>
<line x1="1367.39" y1="1645.75" x2="1397.41" y2="1628.41" stroke="#000" stroke-width="2.4"/>
<line x1="1367.39" y1="1682.85" x2="1397.41" y2="1700.19" stroke="#000" stroke-width="2.4"/>
<line x1="1429.5" y1="1646.95" x2="1429.5" y2="1681.65" stroke="#000" stroke-width="2.4"/>
<line x1="1358.9" y1="1641.65" x2="1333.4" y2="1626.5" stroke="#000" stroke-width="2.4"/>
<text transform="matrix(1,0,0,1.04,1276.2,1628.7)" font-size="24.2">MeO</text>
<path d="M248,1687.1 L286.3,1709.3 L325.3,1687.5 L352.9,1702.5" fill="none" stroke="#000" stroke-width="2.4" stroke-linejoin="miter" stroke-miterlimit="4"/>
<line x1="321.5" y1="1687.5" x2="321.5" y2="1656.7" stroke="#000" stroke-width="2.4"/>
<line x1="329.3" y1="1687.5" x2="329.3" y2="1656.7" stroke="#000" stroke-width="2.4"/>
<path d="M286.3,1709.3 C281.91,1709.3 281.91,1716.22 286.3,1716.22 C290.69,1716.22 290.69,1723.15 286.3,1723.15 C281.91,1723.15 281.91,1730.08 286.3,1730.08 C290.69,1730.08 290.69,1737 286.3,1737" fill="none" stroke="#000" stroke-width="2.4"/>
<text transform="matrix(1,0,0,1.04,315.9,1651.3)" font-size="24.2">O</text>
<text transform="matrix(1,0,0,1.04,354.7,1719.3)" font-size="24.2">OH</text>
<text transform="matrix(1,0,0,1.04,276.4,1764.5)" font-size="24.2">Me</text>
<path d="M866,1687.1 L904.3,1709.3 L930.7,1693.5" fill="none" stroke="#000" stroke-width="2.4" stroke-linejoin="miter" stroke-miterlimit="4"/>
<path d="M904.3,1709.3 C899.91,1709.3 899.91,1716.22 904.3,1716.22 C908.69,1716.22 908.69,1723.15 904.3,1723.15 C899.91,1723.15 899.91,1730.08 904.3,1730.08 C908.69,1730.08 908.69,1737 904.3,1737" fill="none" stroke="#000" stroke-width="2.4"/>
<text transform="matrix(1,0,0,1.04,933.5,1696.2)" font-size="24.2">CHO</text>
<text transform="matrix(1,0,0,1.04,894.1,1764)" font-size="24.2">Me</text>
<path d="M1555,1709.8 L1594.2,1687.15 L1633.4,1709.8" fill="none" stroke="#000" stroke-width="2.4" stroke-linejoin="miter" stroke-miterlimit="4"/>
<line x1="1592.75" y1="1678.77" x2="1595.65" y2="1678.77" stroke="#000" stroke-width="2.6"/>
<line x1="1591.1" y1="1668.12" x2="1597.3" y2="1668.12" stroke="#000" stroke-width="2.6"/>
<line x1="1589.45" y1="1657.48" x2="1598.95" y2="1657.48" stroke="#000" stroke-width="2.6"/>
<text transform="matrix(1,0,0,1.04,1584.5,1651.6)" font-size="24.2">OTES</text>
<path d="M1633.4,1709.8 L1672.6,1687.15 L1699.1,1702.4" fill="none" stroke="#000" stroke-width="2.4" stroke-linejoin="miter" stroke-miterlimit="4"/>
<line x1="1641.9" y1="1714.13" x2="1672.1" y2="1696.68" stroke="#000" stroke-width="2.4"/>
<line x1="1556.5" y1="1717.95" x2="1553.5" y2="1717.95" stroke="#000" stroke-width="2.6"/>
<line x1="1557.6" y1="1725.67" x2="1552.4" y2="1725.67" stroke="#000" stroke-width="2.6"/>
<line x1="1558.7" y1="1733.38" x2="1551.3" y2="1733.38" stroke="#000" stroke-width="2.6"/>
<line x1="1559.8" y1="1741.1" x2="1550.2" y2="1741.1" stroke="#000" stroke-width="2.6"/>
<text transform="matrix(1,0,0,1.04,1545.4,1763.6)" font-size="24.2">Me</text>
<line x1="1633.4" y1="1709.8" x2="1633.4" y2="1741.4" stroke="#000" stroke-width="2.4"/>
<text transform="matrix(1,0,0,1.04,1625.8,1763.6)" font-size="24.2">Et</text>
<text transform="matrix(1,0,0,1.04,1703.1,1719)" font-size="24.2">Et</text>
<line x1="1515.8" y1="1687.1" x2="1555" y2="1709.8" stroke="#000" stroke-width="2.4"/>
<text transform="matrix(1,0,0,1.04,188,1851.7)" text-anchor="middle">(±)-Naproxen</text>
<line x1="421" y1="1687.8" x2="586.4" y2="1687.8" stroke="#000" stroke-width="2.5"/>
<path d="M606.4,1687.8 L581.7,1681 L584.8,1687.8 L581.7,1694.6 Z" fill="#000"/>
<text transform="matrix(1,0,0,1.04,515.3,1636.4)" text-anchor="middle">1. LiAlH<tspan font-size="16.5" dy="6.5">4</tspan><tspan dy="-6.5">, THF</tspan></text>
<text transform="matrix(1,0,0,1.04,507.3,1667)" text-anchor="middle">0 °C -r.t.</text>
<text transform="matrix(1,0,0,1.04,508.6,1722.3)" text-anchor="middle">2. DMP, DCM</text>
<text transform="matrix(1,0,0,1.04,507,1751)" text-anchor="middle">0 °C -r.t.</text>
<line x1="1010.7" y1="1687" x2="1245.9" y2="1687" stroke="#000" stroke-width="2.5"/>
<path d="M1265.9,1687 L1241.2,1680.2 L1244.3,1687 L1241.2,1693.8 Z" fill="#000"/>
<text transform="matrix(1,0,0,1.04,1133.3,1600.5)" text-anchor="middle">Ni(cod)<tspan font-size="16.5" dy="6.5">2</tspan><tspan dy="-6.5"> (2.0 mol%)</tspan></text>
<text transform="matrix(1,0,0,1.04,1133.5,1634.6)" text-anchor="middle"><tspan font-weight="bold">L13</tspan>/HCl (2.0 mol%)</text>
<text transform="matrix(1,0,0,1.04,1133,1669)" text-anchor="middle">KO<tspan font-size="18" font-style="italic" dy="-10">t</tspan><tspan dy="10">Bu (7.0 mol%)</tspan></text>
<text transform="matrix(1,0,0,1.04,1132.3,1722.2)" text-anchor="middle">3-hexyne (1.1 equiv.)</text>
<text transform="matrix(1,0,0,1.04,1134.8,1754.7)" text-anchor="middle">Et<tspan font-size="16.5" dy="6.5">3</tspan><tspan dy="-6.5">SiH (2.0 equiv.)</tspan></text>
<text transform="matrix(1,0,0,1.04,1131.2,1787.4)" text-anchor="middle">THF (1.0 M), r.t.,12&#160; h</text>
<text transform="matrix(1,0,0,1.04,1545.8,1826.9)" text-anchor="middle"><tspan font-weight="bold">4t</tspan>, 95% yield</text>
<text transform="matrix(1,0,0,1.04,1546,1853)" text-anchor="middle"><tspan fill="#720e45">96% e.e., &gt;20:1 d.r.</tspan></text>
<path d="M208.7,1916 L247.9,1938.65 L247.9,1983.95 L208.7,2006.6 L169.5,1983.95 L169.5,1938.65 Z" fill="none" stroke="#000" stroke-width="2.4" stroke-linejoin="miter" stroke-miterlimit="4"/>
<line x1="177.3" y1="1978.65" x2="177.3" y2="1943.95" stroke="#000" stroke-width="2.4"/>
<line x1="209.39" y1="1925.41" x2="239.41" y2="1942.75" stroke="#000" stroke-width="2.4"/>
<line x1="239.41" y1="1979.85" x2="209.39" y2="1997.19" stroke="#000" stroke-width="2.4"/>
<path d="M51.9,1916 L91.1,1938.65 L91.1,1983.95 L51.9,2006.6 L12.7,1983.95 L12.7,1938.65 Z" fill="none" stroke="#000" stroke-width="2.4" stroke-linejoin="miter" stroke-miterlimit="4"/>
<line x1="20.5" y1="1978.65" x2="20.5" y2="1943.95" stroke="#000" stroke-width="2.4"/>
<line x1="52.59" y1="1925.41" x2="82.61" y2="1942.75" stroke="#000" stroke-width="2.4"/>
<line x1="82.61" y1="1979.85" x2="52.59" y2="1997.19" stroke="#000" stroke-width="2.4"/>
<path d="M91.1,1983.95 L130.3,2006.4 L169.5,1983.95" fill="none" stroke="#000" stroke-width="2.4" stroke-linejoin="miter" stroke-miterlimit="4"/>
<line x1="134" y1="2006.4" x2="134" y2="2038.7" stroke="#000" stroke-width="2.4"/>
<line x1="126.6" y1="2006.4" x2="126.6" y2="2038.7" stroke="#000" stroke-width="2.4"/>
<text transform="matrix(1,0,0,1.04,121,2060.5)" font-size="24.2">O</text>
<path d="M827.3,1916 L866.5,1938.65 L866.5,1983.95 L827.3,2006.6 L788.1,1983.95 L788.1,1938.65 Z" fill="none" stroke="#000" stroke-width="2.4" stroke-linejoin="miter" stroke-miterlimit="4"/>
<line x1="795.9" y1="1978.65" x2="795.9" y2="1943.95" stroke="#000" stroke-width="2.4"/>
<line x1="827.99" y1="1925.41" x2="858.01" y2="1942.75" stroke="#000" stroke-width="2.4"/>
<line x1="858.01" y1="1979.85" x2="827.99" y2="1997.19" stroke="#000" stroke-width="2.4"/>
<path d="M670.5,1916 L709.7,1938.65 L709.7,1983.95 L670.5,2006.6 L631.3,1983.95 L631.3,1938.65 Z" fill="none" stroke="#000" stroke-width="2.4" stroke-linejoin="miter" stroke-miterlimit="4"/>
<line x1="639.1" y1="1978.65" x2="639.1" y2="1943.95" stroke="#000" stroke-width="2.4"/>
<line x1="671.19" y1="1925.41" x2="701.21" y2="1942.75" stroke="#000" stroke-width="2.4"/>
<line x1="701.21" y1="1979.85" x2="671.19" y2="1997.19" stroke="#000" stroke-width="2.4"/>
<path d="M709.7,1983.95 L748.9,2006.4 L788.1,1983.95" fill="none" stroke="#000" stroke-width="2.4" stroke-linejoin="miter" stroke-miterlimit="4"/>
<line x1="752.6" y1="2006.4" x2="752.6" y2="2038.7" stroke="#000" stroke-width="2.4"/>
<line x1="745.2" y1="2006.4" x2="745.2" y2="2038.7" stroke="#000" stroke-width="2.4"/>
<text transform="matrix(1,0,0,1.04,739.6,2060.5)" font-size="24.2">O</text>
<path d="M1476.5,1918.3 L1515.7,1940.95 L1515.7,1986.25 L1476.5,2008.9 L1437.3,1986.25 L1437.3,1940.95 Z" fill="none" stroke="#000" stroke-width="2.4" stroke-linejoin="miter" stroke-miterlimit="4"/>
<line x1="1445.1" y1="1980.95" x2="1445.1" y2="1946.25" stroke="#000" stroke-width="2.4"/>
<line x1="1477.19" y1="1927.71" x2="1507.21" y2="1945.05" stroke="#000" stroke-width="2.4"/>
<line x1="1507.21" y1="1982.15" x2="1477.19" y2="1999.49" stroke="#000" stroke-width="2.4"/>
<path d="M1319.7,1918.3 L1358.9,1940.95 L1358.9,1986.25 L1319.7,2008.9 L1280.5,1986.25 L1280.5,1940.95 Z" fill="none" stroke="#000" stroke-width="2.4" stroke-linejoin="miter" stroke-miterlimit="4"/>
<line x1="1288.3" y1="1980.95" x2="1288.3" y2="1946.25" stroke="#000" stroke-width="2.4"/>
<line x1="1320.39" y1="1927.71" x2="1350.41" y2="1945.05" stroke="#000" stroke-width="2.4"/>
<line x1="1350.41" y1="1982.15" x2="1320.39" y2="1999.49" stroke="#000" stroke-width="2.4"/>
<path d="M1358.9,1986.25 L1398.1,2008.7 L1437.3,1986.25" fill="none" stroke="#000" stroke-width="2.4" stroke-linejoin="miter" stroke-miterlimit="4"/>
<line x1="1401.8" y1="2008.7" x2="1401.8" y2="2041" stroke="#000" stroke-width="2.4"/>
<line x1="1394.4" y1="2008.7" x2="1394.4" y2="2041" stroke="#000" stroke-width="2.4"/>
<text transform="matrix(1,0,0,1.04,1388.8,2062.8)" font-size="24.2">O</text>
<path d="M248,1984.1 L286.3,2006.3 L325.3,1984.5 L352.9,1999.5" fill="none" stroke="#000" stroke-width="2.4" stroke-linejoin="miter" stroke-miterlimit="4"/>
<line x1="321.5" y1="1984.5" x2="321.5" y2="1953.7" stroke="#000" stroke-width="2.4"/>
<line x1="329.3" y1="1984.5" x2="329.3" y2="1953.7" stroke="#000" stroke-width="2.4"/>
<path d="M286.3,2006.3 C281.91,2006.3 281.91,2013.22 286.3,2013.22 C290.69,2013.22 290.69,2020.15 286.3,2020.15 C281.91,2020.15 281.91,2027.08 286.3,2027.08 C290.69,2027.08 290.69,2034 286.3,2034" fill="none" stroke="#000" stroke-width="2.4"/>
<text transform="matrix(1,0,0,1.04,315.9,1948.3)" font-size="24.2">O</text>
<text transform="matrix(1,0,0,1.04,354.7,2016.3)" font-size="24.2">OH</text>
<text transform="matrix(1,0,0,1.04,276.4,2061.5)" font-size="24.2">Me</text>
<path d="M866.6,1984.1 L904.9,2006.3 L931.3,1990.5" fill="none" stroke="#000" stroke-width="2.4" stroke-linejoin="miter" stroke-miterlimit="4"/>
<path d="M904.9,2006.3 C900.51,2006.3 900.51,2013.22 904.9,2013.22 C909.29,2013.22 909.29,2020.15 904.9,2020.15 C900.51,2020.15 900.51,2027.08 904.9,2027.08 C909.29,2027.08 909.29,2034 904.9,2034" fill="none" stroke="#000" stroke-width="2.4"/>
<text transform="matrix(1,0,0,1.04,934.1,1993.2)" font-size="24.2">CHO</text>
<text transform="matrix(1,0,0,1.04,894.7,2061)" font-size="24.2">Me</text>
<path d="M1555,2009.1 L1594.2,1986.45 L1633.4,2009.1" fill="none" stroke="#000" stroke-width="2.4" stroke-linejoin="miter" stroke-miterlimit="4"/>
<line x1="1592.75" y1="1978.06" x2="1595.65" y2="1978.06" stroke="#000" stroke-width="2.6"/>
<line x1="1591.1" y1="1967.42" x2="1597.3" y2="1967.42" stroke="#000" stroke-width="2.6"/>
<line x1="1589.45" y1="1956.78" x2="1598.95" y2="1956.78" stroke="#000" stroke-width="2.6"/>
<text transform="matrix(1,0,0,1.04,1584.5,1950.9)" font-size="24.2">OTES</text>
<path d="M1633.4,2009.1 L1672.6,1986.45 L1699.1,2001.7" fill="none" stroke="#000" stroke-width="2.4" stroke-linejoin="miter" stroke-miterlimit="4"/>
<line x1="1641.9" y1="2013.43" x2="1672.1" y2="1995.98" stroke="#000" stroke-width="2.4"/>
<line x1="1556.5" y1="2017.25" x2="1553.5" y2="2017.25" stroke="#000" stroke-width="2.6"/>
<line x1="1557.6" y1="2024.97" x2="1552.4" y2="2024.97" stroke="#000" stroke-width="2.6"/>
<line x1="1558.7" y1="2032.68" x2="1551.3" y2="2032.68" stroke="#000" stroke-width="2.6"/>
<line x1="1559.8" y1="2040.4" x2="1550.2" y2="2040.4" stroke="#000" stroke-width="2.6"/>
<text transform="matrix(1,0,0,1.04,1545.4,2062.9)" font-size="24.2">Me</text>
<line x1="1633.4" y1="2009.1" x2="1633.4" y2="2040.7" stroke="#000" stroke-width="2.4"/>
<text transform="matrix(1,0,0,1.04,1625.8,2062.9)" font-size="24.2">Et</text>
<text transform="matrix(1,0,0,1.04,1703.1,2018.3)" font-size="24.2">Et</text>
<line x1="1515.8" y1="1986.4" x2="1555" y2="2009.1" stroke="#000" stroke-width="2.4"/>
<text transform="matrix(1,0,0,1.04,188,2120)" text-anchor="middle">(±)-Ketoprofen</text>
<line x1="421" y1="1987.1" x2="586.4" y2="1987.1" stroke="#000" stroke-width="2.5"/>
<path d="M606.4,1987.1 L581.7,1980.3 L584.8,1987.1 L581.7,1993.9 Z" fill="#000"/>
<text transform="matrix(1,0,0,1.04,515.3,1935.7)" text-anchor="middle">1. LiAlH<tspan font-size="16.5" dy="6.5">4</tspan><tspan dy="-6.5">, THF</tspan></text>
<text transform="matrix(1,0,0,1.04,507.3,1968.8)" text-anchor="middle">0 °C -r.t.</text>
<text transform="matrix(1,0,0,1.04,508.6,2026.6)" text-anchor="middle">2. DMP, DCM</text>
<text transform="matrix(1,0,0,1.04,507,2055.8)" text-anchor="middle">0 °C -r.t.</text>
<line x1="1010.7" y1="1988" x2="1245.9" y2="1988" stroke="#000" stroke-width="2.5"/>
<path d="M1265.9,1988 L1241.2,1981.2 L1244.3,1988 L1241.2,1994.8 Z" fill="#000"/>
<text transform="matrix(1,0,0,1.04,1133.3,1904.6)" text-anchor="middle">Ni(cod)<tspan font-size="16.5" dy="6.5">2</tspan><tspan dy="-6.5"> (5.0 mol%)</tspan></text>
<text transform="matrix(1,0,0,1.04,1133.5,1938.7)" text-anchor="middle"><tspan font-weight="bold">L13</tspan>/HCl (5.0 mol%)</text>
<text transform="matrix(1,0,0,1.04,1133,1973.3)" text-anchor="middle">KO<tspan font-size="18" font-style="italic" dy="-10">t</tspan><tspan dy="10">Bu (10.0 mol%)</tspan></text>
<text transform="matrix(1,0,0,1.04,1132.3,2027.6)" text-anchor="middle">3-hexyne (1.1 equiv.)</text>
<text transform="matrix(1,0,0,1.04,1134.8,2060.5)" text-anchor="middle">Et<tspan font-size="16.5" dy="6.5">3</tspan><tspan dy="-6.5">SiH (2.0 equiv.)</tspan></text>
<text transform="matrix(1,0,0,1.04,1131.2,2092.3)" text-anchor="middle">THF (1.0 M), r.t.,12&#160; h</text>
<text transform="matrix(1,0,0,1.04,1545.6,2122)" text-anchor="middle"><tspan font-weight="bold">4u</tspan>, 76% yield</text>
<text transform="matrix(1,0,0,1.04,1546,2150)" text-anchor="middle"><tspan fill="#720e45">98% e.e., &gt;20:1 d.r.</tspan></text>
<text transform="matrix(1,0,0,1.04,1920.6,1830.6)" text-anchor="middle">X-ray structure of <tspan font-weight="bold">4ta</tspan></text>
<text transform="matrix(1,0,0,1.04,1923.3,1857)" text-anchor="middle">(CCDC 2416724)</text>
<line x1="80.4" y1="2244.3" x2="80.4" y2="2261.4" stroke="#000" stroke-width="2.4"/>
<text transform="matrix(1,0,0,1.04,72.1,2283.6)" font-size="24.2">N</text>
<text transform="matrix(1,0,0,1.04,72.4,2238.7)" font-size="24.2">Boc</text>
<line x1="67.1" y1="2283.9" x2="43.7" y2="2300.8" stroke="#000" stroke-width="2.4"/>
<line x1="43.7" y1="2300.8" x2="11.8" y2="2268.9" stroke="#000" stroke-width="2.4"/>
<line x1="43.7" y1="2300.8" x2="-3" y2="2313.3" stroke="#000" stroke-width="2.4"/>
<line x1="43.7" y1="2300.8" x2="53.6" y2="2330.4" stroke="#000" stroke-width="2.4"/>
<text transform="matrix(1,0,0,1.04,48.1,2352.8)" font-size="24.2">O</text>
<path d="M71.3,2343.7 L103.3,2343.7 L116.6,2302.3 L93.8,2283.9" fill="none" stroke="#000" stroke-width="2.4" stroke-linejoin="miter" stroke-miterlimit="4"/>
<path d="M116.6,2302.3 C118.15,2306.41 127.52,2302.87 125.97,2298.77 C124.42,2294.66 133.78,2291.13 135.33,2295.23 C136.88,2299.34 146.25,2295.81 144.7,2291.7" fill="none" stroke="#000" stroke-width="2.4"/>
<text transform="matrix(1,0,0,1.04,150,2297.1)" font-size="24.2">CHO</text>
<line x1="216" y1="2313" x2="234" y2="2313" stroke="#000" stroke-width="2.4"/>
<line x1="225" y1="2304" x2="225" y2="2322" stroke="#000" stroke-width="2.4"/>
<line x1="305.5" y1="2338.5" x2="410.6" y2="2278.6" stroke="#000" stroke-width="2.4"/>
<line x1="325.09" y1="2317.9" x2="363.45" y2="2296.03" stroke="#000" stroke-width="2.4"/>
<line x1="333.21" y1="2332.15" x2="371.57" y2="2310.28" stroke="#000" stroke-width="2.4"/>
<line x1="410.6" y1="2278.6" x2="410.6" y2="2248.1" stroke="#000" stroke-width="2.4"/>
<path d="M405.2,2264.4 Q395.2,2279.4 405.2,2294.4" fill="none" stroke="#000" stroke-width="2.4"/>
<path d="M415,2264.4 Q425,2279.4 415,2294.4" fill="none" stroke="#000" stroke-width="2.4"/>
<text transform="matrix(1,0,0,1.04,249.4,2354.7)" font-size="24.2">TMS</text>
<text transform="matrix(1,0,0,1.04,401.6,2242.7)" font-size="24.2">Me</text>
<text transform="matrix(1,0,0,1.04,422.5,2301.7)" font-size="18">12</text>
<text transform="matrix(1,0,0,1.04,118,2426)" text-anchor="middle">(±)-Garner aldehyde</text>
<text transform="matrix(1,0,0,1.04,350,2426)" text-anchor="middle">1.5 equiv.</text>
<line x1="479.8" y1="2310.2" x2="747.5" y2="2310.2" stroke="#000" stroke-width="2.5"/>
<path d="M767.5,2310.2 L742.8,2303.4 L745.9,2310.2 L742.8,2317 Z" fill="#000"/>
<text transform="matrix(1,0,0,1.04,612,2223.7)" text-anchor="middle">Ni(cod)<tspan font-size="16.5" dy="6.5">2</tspan><tspan dy="-6.5"> (10 mol%)</tspan></text>
<text transform="matrix(1,0,0,1.04,612,2258.6)" text-anchor="middle"><tspan font-weight="bold">L10</tspan>/HCl (10 mol%)</text>
<text transform="matrix(1,0,0,1.04,612,2293)" text-anchor="middle">KO<tspan font-size="18" font-style="italic" dy="-10">t</tspan><tspan dy="10">Bu (15 mol%)</tspan></text>
<text transform="matrix(1,0,0,1.04,617.6,2344.7)" text-anchor="middle">Et<tspan font-size="16.5" dy="6.5">3</tspan><tspan dy="-6.5">SiH (2.0 equiv.)</tspan></text>
<text transform="matrix(1,0,0,1.04,614.7,2377.2)" text-anchor="middle">THF (0.4 M), 50 °C, 12 h</text>
<line x1="892.5" y1="2245.6" x2="892.5" y2="2262.4" stroke="#000" stroke-width="2.4"/>
<text transform="matrix(1,0,0,1.04,884.2,2284.2)" font-size="24.2">N</text>
<text transform="matrix(1,0,0,1.04,884.6,2239.3)" font-size="24.2">Boc</text>
<line x1="878.8" y1="2284.9" x2="855.5" y2="2301.7" stroke="#000" stroke-width="2.4"/>
<line x1="855.5" y1="2301.7" x2="840.9" y2="2275.9" stroke="#000" stroke-width="2.4"/>
<text transform="matrix(1,0,0,1.04,805.2,2271.1)" font-size="24.2">Me</text>
<line x1="855.5" y1="2301.7" x2="822.4" y2="2310.8" stroke="#000" stroke-width="2.4"/>
<text transform="matrix(1,0,0,1.04,784.4,2322.5)" font-size="24.2">Me</text>
<line x1="855.5" y1="2301.7" x2="865.4" y2="2331.4" stroke="#000" stroke-width="2.4"/>
<text transform="matrix(1,0,0,1.04,860.1,2353.7)" font-size="24.2">O</text>
<line x1="882.9" y1="2344.7" x2="914.1" y2="2344.7" stroke="#000" stroke-width="2.4"/>
<line x1="928.4" y1="2302.3" x2="905.7" y2="2284.9" stroke="#000" stroke-width="2.4"/>
<line x1="927.3" y1="2309.96" x2="924.64" y2="2309.06" stroke="#000" stroke-width="2.6"/>
<line x1="924.89" y1="2320.63" x2="920.09" y2="2319.02" stroke="#000" stroke-width="2.6"/>
<line x1="922.48" y1="2331.31" x2="915.54" y2="2328.97" stroke="#000" stroke-width="2.6"/>
<line x1="920.08" y1="2341.99" x2="910.98" y2="2338.93" stroke="#000" stroke-width="2.6"/>
<path d="M928.4,2302.3 L967.3,2279.9 L1006.3,2301.4 L1045.3,2279.5 L1084.1,2302.7 L1108.1,2288.4" fill="none" stroke="#000" stroke-width="2.4" stroke-linejoin="miter" stroke-miterlimit="4"/>
<line x1="965.9" y1="2271.15" x2="968.7" y2="2271.15" stroke="#000" stroke-width="2.6"/>
<line x1="964.35" y1="2260.46" x2="970.25" y2="2260.46" stroke="#000" stroke-width="2.6"/>
<line x1="962.8" y1="2249.77" x2="971.8" y2="2249.77" stroke="#000" stroke-width="2.6"/>
<text transform="matrix(1,0,0,1.04,957.8,2243.1)" font-size="24.2">OTES</text>
<line x1="1006.3" y1="2301.4" x2="1006.3" y2="2334.1" stroke="#000" stroke-width="2.4"/>
<text transform="matrix(1,0,0,1.04,998.4,2356.5)" font-size="24.2">TMS</text>
<line x1="1014.75" y1="2305.83" x2="1044.68" y2="2289.02" stroke="#000" stroke-width="2.4"/>
<path d="M1079.5,2285.8 Q1070.3,2300.8 1079.5,2315.8" fill="none" stroke="#000" stroke-width="2.4"/>
<path d="M1090.5,2285.8 Q1099.7,2300.8 1090.5,2315.8" fill="none" stroke="#000" stroke-width="2.4"/>
<text transform="matrix(1,0,0,1.04,1113.3,2289.7)" font-size="24.2">Me</text>
<text transform="matrix(1,0,0,1.04,1098.1,2322.9)" font-size="18">12</text>
<text transform="matrix(1,0,0,1.04,971.4,2428)" text-anchor="middle"><tspan font-weight="bold">10</tspan>, 50% yield,</text>
<text transform="matrix(1,0,0,1.04,971.4,2457.8)" text-anchor="middle"><tspan fill="#720e45">94% e.e., &gt;20:1 d.r.</tspan></text>
<text transform="matrix(1,0,0,1.04,971,2486.3)" text-anchor="middle"><tspan fill="#720e45">&gt;20:1 r.r.</tspan></text>
<line x1="1154.4" y1="2310.3" x2="1307.2" y2="2310.3" stroke="#000" stroke-width="2.5"/>
<path d="M1327.2,2310.3 L1302.5,2303.5 L1305.6,2310.3 L1302.5,2317.1 Z" fill="#000"/>
<text transform="matrix(1,0,0,1.04,1231.5,2299)" text-anchor="middle">TBAF</text>
<text transform="matrix(1,0,0,1.04,1233,2345)" text-anchor="middle">THF, r.t., 2 h</text>
<line x1="1460.4" y1="2273.3" x2="1460.4" y2="2290.6" stroke="#000" stroke-width="2.4"/>
<text transform="matrix(1,0,0,1.04,1452.1,2312.5)" font-size="24.2">N</text>
<text transform="matrix(1,0,0,1.04,1452.4,2267.7)" font-size="24.2">Boc</text>
<line x1="1446.8" y1="2313" x2="1423.2" y2="2329.8" stroke="#000" stroke-width="2.4"/>
<line x1="1423.2" y1="2329.8" x2="1409.1" y2="2304" stroke="#000" stroke-width="2.4"/>
<text transform="matrix(1,0,0,1.04,1373.5,2299.6)" font-size="24.2">Me</text>
<line x1="1423.2" y1="2329.8" x2="1390.4" y2="2338.9" stroke="#000" stroke-width="2.4"/>
<text transform="matrix(1,0,0,1.04,1352.3,2350.7)" font-size="24.2">Me</text>
<line x1="1423.2" y1="2329.8" x2="1432.9" y2="2359.7" stroke="#000" stroke-width="2.4"/>
<text transform="matrix(1,0,0,1.04,1427.9,2381.6)" font-size="24.2">O</text>
<line x1="1450.4" y1="2372.9" x2="1481.6" y2="2372.9" stroke="#000" stroke-width="2.4"/>
<line x1="1496.4" y1="2330.3" x2="1473.7" y2="2313.3" stroke="#000" stroke-width="2.4"/>
<line x1="1495.21" y1="2338" x2="1492.56" y2="2337.08" stroke="#000" stroke-width="2.6"/>
<line x1="1492.68" y1="2348.74" x2="1487.89" y2="2347.08" stroke="#000" stroke-width="2.6"/>
<line x1="1490.14" y1="2359.48" x2="1483.22" y2="2357.07" stroke="#000" stroke-width="2.6"/>
<line x1="1487.61" y1="2370.22" x2="1478.55" y2="2367.06" stroke="#000" stroke-width="2.6"/>
<path d="M1496.4,2330.3 L1535.2,2307.5 L1574.4,2330.1 L1613.2,2307.5 L1652.3,2330.7 L1676.1,2316.9" fill="none" stroke="#000" stroke-width="2.4" stroke-linejoin="miter" stroke-miterlimit="4"/>
<line x1="1533.8" y1="2298.99" x2="1536.6" y2="2298.99" stroke="#000" stroke-width="2.6"/>
<line x1="1532.2" y1="2288.6" x2="1538.2" y2="2288.6" stroke="#000" stroke-width="2.6"/>
<line x1="1530.6" y1="2278.2" x2="1539.8" y2="2278.2" stroke="#000" stroke-width="2.6"/>
<text transform="matrix(1,0,0,1.04,1525.8,2272.9)" font-size="24.2">OH</text>
<line x1="1574.87" y1="2320.57" x2="1604.68" y2="2303.2" stroke="#000" stroke-width="2.4"/>
<path d="M1647.7,2313.65 Q1637.9,2328.4 1647.7,2343.15" fill="none" stroke="#000" stroke-width="2.4"/>
<path d="M1658.1,2313.65 Q1667.9,2328.4 1658.1,2343.15" fill="none" stroke="#000" stroke-width="2.4"/>
<text transform="matrix(1,0,0,1.04,1681.1,2318)" font-size="24.2">Me</text>
<text transform="matrix(1,0,0,1.04,1666.2,2350.5)" font-size="18">12</text>
<text transform="matrix(1,0,0,1.04,1539.3,2427.6)" text-anchor="middle"><tspan font-weight="bold">11</tspan>, 93% yield</text>
<line x1="1738.9" y1="2310.5" x2="1800.2" y2="2310.5" stroke="#000" stroke-width="2.5"/>
<path d="M1820.2,2310.5 L1795.5,2303.7 L1798.6,2310.5 L1795.5,2317.3 Z" fill="#000"/>
<path d="M1853.8,2286.5 L1877.3,2303.6 L1915.7,2281 L1955.2,2303.6 L1994,2281 L2032.8,2303.6 L2056.7,2289.4" fill="none" stroke="#000" stroke-width="2.4" stroke-linejoin="miter" stroke-miterlimit="4"/>
<text transform="matrix(1,0,0,1.04,1802.8,2285.2)" font-size="24">H<tspan font-size="17" dy="6">2</tspan><tspan dy="-6">N</tspan></text>
<line x1="1914.3" y1="2273.12" x2="1917.1" y2="2273.12" stroke="#000" stroke-width="2.6"/>
<line x1="1912.62" y1="2262.41" x2="1918.78" y2="2262.41" stroke="#000" stroke-width="2.6"/>
<line x1="1910.95" y1="2251.7" x2="1920.45" y2="2251.7" stroke="#000" stroke-width="2.6"/>
<text transform="matrix(1,0,0,1.04,1905.8,2245.9)" font-size="24.2">OH</text>
<line x1="1955.67" y1="2294.07" x2="1985.48" y2="2276.7" stroke="#000" stroke-width="2.4"/>
<path d="M2027.6,2287.65 Q2018.8,2302.3 2027.6,2316.95" fill="none" stroke="#000" stroke-width="2.4"/>
<path d="M2037.6,2287.65 Q2046.4,2302.3 2037.6,2316.95" fill="none" stroke="#000" stroke-width="2.4"/>
<text transform="matrix(1,0,0,1.04,2062.7,2291)" font-size="24.2">Me</text>
<text transform="matrix(1,0,0,1.04,2049.2,2325)" font-size="18">12</text>
<line x1="1878.7" y1="2311.58" x2="1875.9" y2="2311.58" stroke="#000" stroke-width="2.6"/>
<line x1="1879.9" y1="2321.29" x2="1874.7" y2="2321.29" stroke="#000" stroke-width="2.6"/>
<line x1="1881.1" y1="2331" x2="1873.5" y2="2331" stroke="#000" stroke-width="2.6"/>
<line x1="1882.3" y1="2340.71" x2="1872.3" y2="2340.71" stroke="#000" stroke-width="2.6"/>
<line x1="1877.3" y1="2348.7" x2="1849.8" y2="2363.8" stroke="#000" stroke-width="2.4"/>
<text transform="matrix(1,0,0,1.04,1810.8,2380.5)" font-size="24.2">HO</text>
<text transform="matrix(1,0,0,1.04,1952.5,2427)" text-anchor="middle"><tspan font-size="18">D</tspan>-erythro-sphingosine</text>
<defs>
<radialGradient id="gC" cx="0.6" cy="0.36" r="0.7" fx="0.62" fy="0.32">
<stop offset="0" stop-color="#c9c9c9"/><stop offset="0.18" stop-color="#9a9a9a"/><stop offset="0.7" stop-color="#828282"/><stop offset="1" stop-color="#5e5e5e"/></radialGradient>
<radialGradient id="gO" cx="0.6" cy="0.36" r="0.7" fx="0.62" fy="0.32">
<stop offset="0" stop-color="#ff7070"/><stop offset="0.18" stop-color="#ee2a2a"/><stop offset="0.7" stop-color="#d41c1c"/><stop offset="1" stop-color="#9c1010"/></radialGradient>
</defs>
<line x1="1756.3" y1="1757" x2="1762.8" y2="1739.7" stroke="#8c8c8c" stroke-width="4.2"/>
<line x1="1762.8" y1="1739.7" x2="1769.3" y2="1722.4" stroke="#c81e1e" stroke-width="4.2"/>
<line x1="1769.3" y1="1722.4" x2="1790.6" y2="1721.5" stroke="#c81e1e" stroke-width="4.2"/>
<line x1="1790.6" y1="1721.5" x2="1811.9" y2="1720.6" stroke="#8c8c8c" stroke-width="4.2"/>
<line x1="1811.9" y1="1720.6" x2="1823.2" y2="1684.1" stroke="#8c8c8c" stroke-width="4.2"/>
<line x1="1823.2" y1="1684.1" x2="1863.6" y2="1679" stroke="#8c8c8c" stroke-width="4.2"/>
<line x1="1863.6" y1="1679" x2="1894.6" y2="1707.6" stroke="#8c8c8c" stroke-width="4.2"/>
<line x1="1894.6" y1="1707.6" x2="1883" y2="1743.3" stroke="#8c8c8c" stroke-width="4.2"/>
<line x1="1883" y1="1743.3" x2="1840.7" y2="1749.4" stroke="#8c8c8c" stroke-width="4.2"/>
<line x1="1840.7" y1="1749.4" x2="1811.9" y2="1720.6" stroke="#8c8c8c" stroke-width="4.2"/>
<line x1="1894.6" y1="1707.6" x2="1937" y2="1702" stroke="#8c8c8c" stroke-width="4.2"/>
<line x1="1937" y1="1702" x2="1967.7" y2="1730" stroke="#8c8c8c" stroke-width="4.2"/>
<line x1="1967.7" y1="1730" x2="1956.4" y2="1765.7" stroke="#8c8c8c" stroke-width="4.2"/>
<line x1="1956.4" y1="1765.7" x2="1914.6" y2="1771.8" stroke="#8c8c8c" stroke-width="4.2"/>
<line x1="1914.6" y1="1771.8" x2="1883" y2="1743.3" stroke="#8c8c8c" stroke-width="4.2"/>
<line x1="1967.7" y1="1730" x2="2013.6" y2="1721.8" stroke="#8c8c8c" stroke-width="4.2"/>
<line x1="2013.6" y1="1721.8" x2="2034" y2="1760.6" stroke="#8c8c8c" stroke-width="4.2"/>
<line x1="2013.6" y1="1721.8" x2="2036.6" y2="1706.5" stroke="#8c8c8c" stroke-width="4.2"/>
<line x1="2036.6" y1="1706.5" x2="2058.25" y2="1704.25" stroke="#8c8c8c" stroke-width="4.2"/>
<line x1="2058.25" y1="1704.25" x2="2079.9" y2="1702" stroke="#c81e1e" stroke-width="4.2"/>
<line x1="2036.6" y1="1706.5" x2="2019" y2="1665.7" stroke="#8c8c8c" stroke-width="4.2"/>
<line x1="2019" y1="1665.7" x2="1993.8" y2="1665.3" stroke="#8c8c8c" stroke-width="4.2"/>
<line x1="1993.8" y1="1665.3" x2="1971.7" y2="1629" stroke="#8c8c8c" stroke-width="4.2"/>
<line x1="1971.7" y1="1629" x2="1927.9" y2="1637.1" stroke="#8c8c8c" stroke-width="4.2"/>
<line x1="2019" y1="1665.7" x2="2029.9" y2="1625.9" stroke="#8c8c8c" stroke-width="4.2"/>
<line x1="2029.9" y1="1625.9" x2="2067.7" y2="1602.4" stroke="#8c8c8c" stroke-width="4.2"/>
<circle cx="2067.7" cy="1602.4" r="10.9" fill="url(#gC)"/>
<circle cx="2029.9" cy="1625.9" r="10.9" fill="url(#gC)"/>
<circle cx="1971.7" cy="1629" r="10.9" fill="url(#gC)"/>
<circle cx="1927.9" cy="1637.1" r="10.9" fill="url(#gC)"/>
<circle cx="1993.8" cy="1665.3" r="10.9" fill="url(#gC)"/>
<circle cx="2019" cy="1665.7" r="10.9" fill="url(#gC)"/>
<circle cx="1863.6" cy="1679" r="10.9" fill="url(#gC)"/>
<circle cx="1823.2" cy="1684.1" r="10.9" fill="url(#gC)"/>
<circle cx="1937" cy="1702" r="10.9" fill="url(#gC)"/>
<circle cx="2079.9" cy="1702" r="9.9" fill="url(#gO)"/>
<circle cx="2036.6" cy="1706.5" r="10.9" fill="url(#gC)"/>
<circle cx="1894.6" cy="1707.6" r="10.9" fill="url(#gC)"/>
<circle cx="1811.9" cy="1720.6" r="10.9" fill="url(#gC)"/>
<circle cx="2013.6" cy="1721.8" r="10.9" fill="url(#gC)"/>
<circle cx="1769.3" cy="1722.4" r="9.9" fill="url(#gO)"/>
<circle cx="1967.7" cy="1730" r="10.9" fill="url(#gC)"/>
<circle cx="1883" cy="1743.3" r="10.9" fill="url(#gC)"/>
<circle cx="1840.7" cy="1749.4" r="10.9" fill="url(#gC)"/>
<circle cx="1756.3" cy="1757" r="10.9" fill="url(#gC)"/>
<circle cx="2034" cy="1760.6" r="10.9" fill="url(#gC)"/>
<circle cx="1956.4" cy="1765.7" r="10.9" fill="url(#gC)"/>
<circle cx="1914.6" cy="1771.8" r="10.9" fill="url(#gC)"/></svg></body></html>
